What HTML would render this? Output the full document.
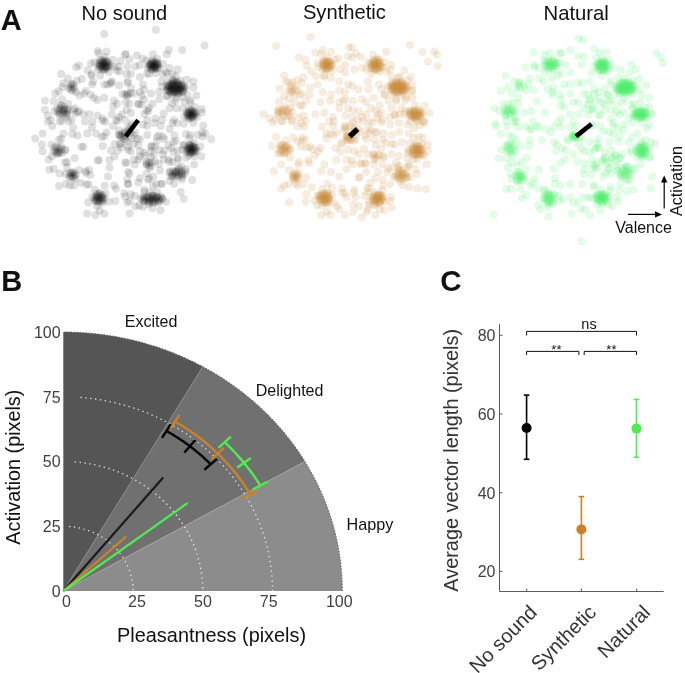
<!DOCTYPE html>
<html><head><meta charset="utf-8"><style>
html,body{margin:0;padding:0;background:#fff;width:685px;height:673px;overflow:hidden}
svg{display:block;will-change:transform}
text{font-family:"Liberation Sans",sans-serif}
</style></head><body>
<svg width="685" height="673" viewBox="0 0 685 673">
<defs><filter id="soft" x="-5%" y="-5%" width="110%" height="110%"><feGaussianBlur stdDeviation="0.55"/></filter></defs>
<rect width="685" height="673" fill="#fff"/>
<g fill="#000" fill-opacity="0.12" filter="url(#soft)">
<circle cx="103.0" cy="64.7" r="4"/>
<circle cx="104.8" cy="64.0" r="4"/>
<circle cx="103.5" cy="66.5" r="4"/>
<circle cx="102.7" cy="63.1" r="4"/>
<circle cx="106.0" cy="65.4" r="4"/>
<circle cx="101.6" cy="66.0" r="4"/>
<circle cx="104.7" cy="62.2" r="4"/>
<circle cx="105.0" cy="67.5" r="4"/>
<circle cx="100.9" cy="63.5" r="4"/>
<circle cx="106.9" cy="63.8" r="4"/>
<circle cx="102.1" cy="67.8" r="4"/>
<circle cx="103.0" cy="61.2" r="4"/>
<circle cx="106.9" cy="66.9" r="4"/>
<circle cx="99.9" cy="65.4" r="4"/>
<circle cx="106.4" cy="61.6" r="4"/>
<circle cx="104.0" cy="69.0" r="4"/>
<circle cx="100.7" cy="61.7" r="4"/>
<circle cx="108.3" cy="64.9" r="4"/>
<circle cx="100.3" cy="67.8" r="4"/>
<circle cx="104.4" cy="60.1" r="4"/>
<circle cx="106.6" cy="68.8" r="4"/>
<circle cx="98.9" cy="63.8" r="4"/>
<circle cx="108.2" cy="62.2" r="4"/>
<circle cx="102.3" cy="69.8" r="4"/>
<circle cx="101.5" cy="60.0" r="4"/>
<circle cx="108.8" cy="66.8" r="4"/>
<circle cx="98.6" cy="66.8" r="4"/>
<circle cx="103.5" cy="63.2" r="4"/>
<circle cx="106.1" cy="66.5" r="4"/>
<circle cx="100.0" cy="65.2" r="4"/>
<circle cx="106.8" cy="61.4" r="4"/>
<circle cx="103.9" cy="70.1" r="4"/>
<circle cx="99.7" cy="60.5" r="4"/>
<circle cx="110.4" cy="65.2" r="4"/>
<circle cx="98.1" cy="69.4" r="4"/>
<circle cx="105.0" cy="56.9" r="4"/>
<circle cx="108.7" cy="72.1" r="4"/>
<circle cx="94.6" cy="62.5" r="4"/>
<circle cx="112.9" cy="59.8" r="4"/>
<circle cx="100.2" cy="75.5" r="4"/>
<circle cx="98.8" cy="53.3" r="4"/>
<circle cx="116.7" cy="70.5" r="4"/>
<circle cx="87.6" cy="70.3" r="4"/>
<circle cx="154.4" cy="65.3" r="4"/>
<circle cx="153.1" cy="66.4" r="4"/>
<circle cx="153.3" cy="64.2" r="4"/>
<circle cx="155.2" cy="66.4" r="4"/>
<circle cx="151.6" cy="65.8" r="4"/>
<circle cx="155.2" cy="63.9" r="4"/>
<circle cx="153.8" cy="67.7" r="4"/>
<circle cx="151.7" cy="63.8" r="4"/>
<circle cx="156.6" cy="65.6" r="4"/>
<circle cx="151.4" cy="67.3" r="4"/>
<circle cx="154.1" cy="62.7" r="4"/>
<circle cx="155.7" cy="67.9" r="4"/>
<circle cx="150.2" cy="64.9" r="4"/>
<circle cx="156.9" cy="63.9" r="4"/>
<circle cx="152.6" cy="68.7" r="4"/>
<circle cx="152.0" cy="62.4" r="4"/>
<circle cx="157.5" cy="66.8" r="4"/>
<circle cx="149.8" cy="66.8" r="4"/>
<circle cx="155.7" cy="62.1" r="4"/>
<circle cx="154.9" cy="69.2" r="4"/>
<circle cx="149.9" cy="63.4" r="4"/>
<circle cx="158.3" cy="64.8" r="4"/>
<circle cx="150.8" cy="68.8" r="4"/>
<circle cx="153.2" cy="61.3" r="4"/>
<circle cx="157.4" cy="68.4" r="4"/>
<circle cx="148.6" cy="65.5" r="4"/>
<circle cx="157.5" cy="62.4" r="4"/>
<circle cx="154.6" cy="66.9" r="4"/>
<circle cx="150.9" cy="64.8" r="4"/>
<circle cx="157.0" cy="63.7" r="4"/>
<circle cx="152.2" cy="69.8" r="4"/>
<circle cx="151.6" cy="60.7" r="4"/>
<circle cx="159.1" cy="67.9" r="4"/>
<circle cx="147.4" cy="67.6" r="4"/>
<circle cx="157.2" cy="59.1" r="4"/>
<circle cx="155.6" cy="73.3" r="4"/>
<circle cx="146.5" cy="60.6" r="4"/>
<circle cx="163.1" cy="64.1" r="4"/>
<circle cx="147.2" cy="73.5" r="4"/>
<circle cx="153.0" cy="54.2" r="4"/>
<circle cx="162.7" cy="74.2" r="4"/>
<circle cx="139.6" cy="65.1" r="4"/>
<circle cx="166.6" cy="54.3" r="4"/>
<circle cx="175.8" cy="88.4" r="4"/>
<circle cx="173.5" cy="87.7" r="4"/>
<circle cx="177.1" cy="87.2" r="4"/>
<circle cx="174.5" cy="89.4" r="4"/>
<circle cx="173.8" cy="86.3" r="4"/>
<circle cx="178.3" cy="88.6" r="4"/>
<circle cx="171.9" cy="88.7" r="4"/>
<circle cx="176.8" cy="85.8" r="4"/>
<circle cx="176.5" cy="90.2" r="4"/>
<circle cx="171.4" cy="86.6" r="4"/>
<circle cx="179.6" cy="87.3" r="4"/>
<circle cx="172.5" cy="90.3" r="4"/>
<circle cx="174.5" cy="84.9" r="4"/>
<circle cx="179.2" cy="89.9" r="4"/>
<circle cx="169.8" cy="88.1" r="4"/>
<circle cx="179.1" cy="85.5" r="4"/>
<circle cx="175.0" cy="91.3" r="4"/>
<circle cx="171.4" cy="85.2" r="4"/>
<circle cx="181.2" cy="88.3" r="4"/>
<circle cx="170.1" cy="90.1" r="4"/>
<circle cx="176.5" cy="84.2" r="4"/>
<circle cx="178.5" cy="91.3" r="4"/>
<circle cx="168.8" cy="86.7" r="4"/>
<circle cx="181.4" cy="86.1" r="4"/>
<circle cx="172.6" cy="91.8" r="4"/>
<circle cx="172.7" cy="83.9" r="4"/>
<circle cx="181.7" cy="89.9" r="4"/>
<circle cx="168.1" cy="89.1" r="4"/>
<circle cx="179.2" cy="84.1" r="4"/>
<circle cx="176.6" cy="92.4" r="4"/>
<circle cx="169.0" cy="85.1" r="4"/>
<circle cx="183.1" cy="87.5" r="4"/>
<circle cx="169.8" cy="91.5" r="4"/>
<circle cx="175.1" cy="83.0" r="4"/>
<circle cx="180.8" cy="91.5" r="4"/>
<circle cx="166.8" cy="87.5" r="4"/>
<circle cx="181.9" cy="84.8" r="4"/>
<circle cx="173.8" cy="93.0" r="4"/>
<circle cx="170.5" cy="83.5" r="4"/>
<circle cx="183.8" cy="89.2" r="4"/>
<circle cx="167.3" cy="90.4" r="4"/>
<circle cx="178.3" cy="82.8" r="4"/>
<circle cx="178.8" cy="93.0" r="4"/>
<circle cx="166.8" cy="85.6" r="4"/>
<circle cx="184.1" cy="86.2" r="4"/>
<circle cx="170.5" cy="92.8" r="4"/>
<circle cx="173.1" cy="82.3" r="4"/>
<circle cx="183.2" cy="91.2" r="4"/>
<circle cx="174.5" cy="88.9" r="4"/>
<circle cx="175.0" cy="85.8" r="4"/>
<circle cx="177.3" cy="89.8" r="4"/>
<circle cx="171.8" cy="88.0" r="4"/>
<circle cx="178.0" cy="85.2" r="4"/>
<circle cx="174.9" cy="92.2" r="4"/>
<circle cx="172.3" cy="84.2" r="4"/>
<circle cx="180.3" cy="88.7" r="4"/>
<circle cx="170.6" cy="91.0" r="4"/>
<circle cx="176.6" cy="82.2" r="4"/>
<circle cx="178.2" cy="93.4" r="4"/>
<circle cx="168.9" cy="85.7" r="4"/>
<circle cx="181.7" cy="85.1" r="4"/>
<circle cx="172.2" cy="94.7" r="4"/>
<circle cx="172.7" cy="80.5" r="4"/>
<circle cx="182.4" cy="91.9" r="4"/>
<circle cx="166.8" cy="89.9" r="4"/>
<circle cx="180.3" cy="80.4" r="4"/>
<circle cx="176.6" cy="97.4" r="4"/>
<circle cx="167.4" cy="81.6" r="4"/>
<circle cx="185.7" cy="87.3" r="4"/>
<circle cx="167.5" cy="95.9" r="4"/>
<circle cx="175.5" cy="76.2" r="4"/>
<circle cx="183.3" cy="97.3" r="4"/>
<circle cx="162.0" cy="86.4" r="4"/>
<circle cx="186.8" cy="79.5" r="4"/>
<circle cx="172.0" cy="103.3" r="4"/>
<circle cx="165.7" cy="72.1" r="4"/>
<circle cx="191.8" cy="114.0" r="4"/>
<circle cx="190.5" cy="115.2" r="4"/>
<circle cx="190.7" cy="112.8" r="4"/>
<circle cx="192.7" cy="115.2" r="4"/>
<circle cx="188.9" cy="114.5" r="4"/>
<circle cx="192.7" cy="112.5" r="4"/>
<circle cx="191.3" cy="116.6" r="4"/>
<circle cx="189.0" cy="112.4" r="4"/>
<circle cx="194.2" cy="114.3" r="4"/>
<circle cx="188.6" cy="116.1" r="4"/>
<circle cx="191.5" cy="111.2" r="4"/>
<circle cx="193.2" cy="116.7" r="4"/>
<circle cx="187.4" cy="113.5" r="4"/>
<circle cx="194.4" cy="112.4" r="4"/>
<circle cx="190.0" cy="117.6" r="4"/>
<circle cx="189.3" cy="110.9" r="4"/>
<circle cx="195.1" cy="115.6" r="4"/>
<circle cx="187.0" cy="115.6" r="4"/>
<circle cx="193.1" cy="110.6" r="4"/>
<circle cx="192.4" cy="118.1" r="4"/>
<circle cx="187.0" cy="112.0" r="4"/>
<circle cx="195.9" cy="113.4" r="4"/>
<circle cx="188.1" cy="117.7" r="4"/>
<circle cx="190.6" cy="109.7" r="4"/>
<circle cx="192.1" cy="115.7" r="4"/>
<circle cx="188.1" cy="113.5" r="4"/>
<circle cx="194.7" cy="112.2" r="4"/>
<circle cx="189.5" cy="118.9" r="4"/>
<circle cx="188.8" cy="109.0" r="4"/>
<circle cx="197.1" cy="116.8" r="4"/>
<circle cx="184.2" cy="116.6" r="4"/>
<circle cx="194.9" cy="107.1" r="4"/>
<circle cx="193.3" cy="122.8" r="4"/>
<circle cx="182.9" cy="108.8" r="4"/>
<circle cx="201.8" cy="112.5" r="4"/>
<circle cx="183.6" cy="123.7" r="4"/>
<circle cx="190.1" cy="100.5" r="4"/>
<circle cx="203.3" cy="125.7" r="4"/>
<circle cx="191.2" cy="149.7" r="4"/>
<circle cx="191.1" cy="148.0" r="4"/>
<circle cx="192.9" cy="149.8" r="4"/>
<circle cx="189.7" cy="149.6" r="4"/>
<circle cx="192.6" cy="147.3" r="4"/>
<circle cx="191.9" cy="151.4" r="4"/>
<circle cx="189.5" cy="147.6" r="4"/>
<circle cx="194.2" cy="148.9" r="4"/>
<circle cx="189.6" cy="151.2" r="4"/>
<circle cx="191.5" cy="146.1" r="4"/>
<circle cx="193.7" cy="151.5" r="4"/>
<circle cx="188.2" cy="148.8" r="4"/>
<circle cx="194.3" cy="147.0" r="4"/>
<circle cx="190.9" cy="152.7" r="4"/>
<circle cx="189.5" cy="145.9" r="4"/>
<circle cx="195.3" cy="150.1" r="4"/>
<circle cx="187.9" cy="151.0" r="4"/>
<circle cx="192.9" cy="145.2" r="4"/>
<circle cx="193.1" cy="153.0" r="4"/>
<circle cx="187.5" cy="147.3" r="4"/>
<circle cx="195.8" cy="147.7" r="4"/>
<circle cx="189.2" cy="153.1" r="4"/>
<circle cx="190.5" cy="144.5" r="4"/>
<circle cx="195.4" cy="151.8" r="4"/>
<circle cx="186.7" cy="149.7" r="4"/>
<circle cx="189.8" cy="148.9" r="4"/>
<circle cx="193.9" cy="147.4" r="4"/>
<circle cx="190.7" cy="152.9" r="4"/>
<circle cx="189.1" cy="145.0" r="4"/>
<circle cx="196.8" cy="150.7" r="4"/>
<circle cx="185.9" cy="151.8" r="4"/>
<circle cx="194.1" cy="142.7" r="4"/>
<circle cx="194.2" cy="156.3" r="4"/>
<circle cx="184.0" cy="145.3" r="4"/>
<circle cx="200.4" cy="146.6" r="4"/>
<circle cx="186.2" cy="157.7" r="4"/>
<circle cx="189.4" cy="138.2" r="4"/>
<circle cx="201.4" cy="156.5" r="4"/>
<circle cx="177.6" cy="150.5" r="4"/>
<circle cx="202.8" cy="136.5" r="4"/>
<circle cx="176.5" cy="173.9" r="4"/>
<circle cx="178.5" cy="172.3" r="4"/>
<circle cx="178.9" cy="175.1" r="4"/>
<circle cx="174.3" cy="172.7" r="4"/>
<circle cx="181.7" cy="172.8" r="4"/>
<circle cx="175.4" cy="175.7" r="4"/>
<circle cx="176.6" cy="170.8" r="4"/>
<circle cx="182.2" cy="175.2" r="4"/>
<circle cx="171.9" cy="173.9" r="4"/>
<circle cx="181.6" cy="171.0" r="4"/>
<circle cx="178.0" cy="177.0" r="4"/>
<circle cx="172.9" cy="170.9" r="4"/>
<circle cx="184.7" cy="173.7" r="4"/>
<circle cx="172.1" cy="176.0" r="4"/>
<circle cx="178.7" cy="169.5" r="4"/>
<circle cx="182.2" cy="177.0" r="4"/>
<circle cx="169.8" cy="172.6" r="4"/>
<circle cx="184.9" cy="171.3" r="4"/>
<circle cx="176.3" cy="172.0" r="4"/>
<circle cx="181.4" cy="173.8" r="4"/>
<circle cx="173.8" cy="176.5" r="4"/>
<circle cx="178.7" cy="167.5" r="4"/>
<circle cx="181.6" cy="179.4" r="4"/>
<circle cx="169.7" cy="171.5" r="4"/>
<circle cx="186.0" cy="169.1" r="4"/>
<circle cx="174.1" cy="183.7" r="4"/>
<circle cx="172.7" cy="161.9" r="4"/>
<circle cx="192.2" cy="180.1" r="4"/>
<circle cx="152.4" cy="198.4" r="4"/>
<circle cx="152.4" cy="199.6" r="4"/>
<circle cx="148.9" cy="198.2" r="4"/>
<circle cx="155.6" cy="198.6" r="4"/>
<circle cx="149.0" cy="200.0" r="4"/>
<circle cx="151.3" cy="197.2" r="4"/>
<circle cx="155.6" cy="200.0" r="4"/>
<circle cx="145.9" cy="198.8" r="4"/>
<circle cx="156.2" cy="197.4" r="4"/>
<circle cx="151.1" cy="200.9" r="4"/>
<circle cx="147.6" cy="197.0" r="4"/>
<circle cx="158.7" cy="199.2" r="4"/>
<circle cx="145.4" cy="200.1" r="4"/>
<circle cx="153.8" cy="196.3" r="4"/>
<circle cx="155.3" cy="201.2" r="4"/>
<circle cx="143.9" cy="197.8" r="4"/>
<circle cx="159.6" cy="197.7" r="4"/>
<circle cx="147.9" cy="201.4" r="4"/>
<circle cx="149.1" cy="195.9" r="4"/>
<circle cx="159.7" cy="200.4" r="4"/>
<circle cx="142.4" cy="199.5" r="4"/>
<circle cx="157.4" cy="196.2" r="4"/>
<circle cx="152.9" cy="202.1" r="4"/>
<circle cx="144.0" cy="196.6" r="4"/>
<circle cx="162.1" cy="198.7" r="4"/>
<circle cx="144.1" cy="201.3" r="4"/>
<circle cx="152.3" cy="195.2" r="4"/>
<circle cx="158.7" cy="201.6" r="4"/>
<circle cx="140.6" cy="198.3" r="4"/>
<circle cx="161.1" cy="196.6" r="4"/>
<circle cx="149.1" cy="202.6" r="4"/>
<circle cx="153.2" cy="199.1" r="4"/>
<circle cx="149.4" cy="200.2" r="4"/>
<circle cx="152.8" cy="195.4" r="4"/>
<circle cx="153.5" cy="202.7" r="4"/>
<circle cx="147.1" cy="196.9" r="4"/>
<circle cx="156.9" cy="196.9" r="4"/>
<circle cx="148.9" cy="204.3" r="4"/>
<circle cx="149.9" cy="192.3" r="4"/>
<circle cx="157.9" cy="202.7" r="4"/>
<circle cx="143.9" cy="200.2" r="4"/>
<circle cx="156.9" cy="192.0" r="4"/>
<circle cx="152.5" cy="208.0" r="4"/>
<circle cx="144.3" cy="192.1" r="4"/>
<circle cx="162.5" cy="198.8" r="4"/>
<circle cx="143.0" cy="206.8" r="4"/>
<circle cx="152.8" cy="185.9" r="4"/>
<circle cx="160.5" cy="210.3" r="4"/>
<circle cx="134.6" cy="195.8" r="4"/>
<circle cx="98.4" cy="198.4" r="4"/>
<circle cx="99.4" cy="196.7" r="4"/>
<circle cx="99.9" cy="199.6" r="4"/>
<circle cx="97.1" cy="197.3" r="4"/>
<circle cx="101.3" cy="197.1" r="4"/>
<circle cx="98.0" cy="200.4" r="4"/>
<circle cx="98.2" cy="195.3" r="4"/>
<circle cx="101.7" cy="199.5" r="4"/>
<circle cx="95.9" cy="198.7" r="4"/>
<circle cx="101.1" cy="195.2" r="4"/>
<circle cx="99.6" cy="201.6" r="4"/>
<circle cx="96.2" cy="195.6" r="4"/>
<circle cx="103.0" cy="197.8" r="4"/>
<circle cx="96.2" cy="200.9" r="4"/>
<circle cx="99.3" cy="193.8" r="4"/>
<circle cx="101.9" cy="201.3" r="4"/>
<circle cx="94.6" cy="197.4" r="4"/>
<circle cx="102.9" cy="195.3" r="4"/>
<circle cx="98.1" cy="202.7" r="4"/>
<circle cx="96.6" cy="193.8" r="4"/>
<circle cx="103.9" cy="199.5" r="4"/>
<circle cx="94.4" cy="200.2" r="4"/>
<circle cx="97.7" cy="196.8" r="4"/>
<circle cx="102.3" cy="198.0" r="4"/>
<circle cx="96.0" cy="200.9" r="4"/>
<circle cx="99.5" cy="192.9" r="4"/>
<circle cx="102.8" cy="202.7" r="4"/>
<circle cx="92.4" cy="196.9" r="4"/>
<circle cx="105.5" cy="193.8" r="4"/>
<circle cx="97.0" cy="206.3" r="4"/>
<circle cx="94.6" cy="189.7" r="4"/>
<circle cx="109.0" cy="201.5" r="4"/>
<circle cx="88.3" cy="202.6" r="4"/>
<circle cx="104.7" cy="185.7" r="4"/>
<circle cx="104.3" cy="213.8" r="4"/>
<circle cx="71.5" cy="174.7" r="4"/>
<circle cx="73.6" cy="174.4" r="4"/>
<circle cx="71.6" cy="176.7" r="4"/>
<circle cx="71.6" cy="172.9" r="4"/>
<circle cx="74.5" cy="176.2" r="4"/>
<circle cx="69.6" cy="175.7" r="4"/>
<circle cx="73.9" cy="172.5" r="4"/>
<circle cx="72.8" cy="178.2" r="4"/>
<circle cx="69.6" cy="172.9" r="4"/>
<circle cx="75.9" cy="174.7" r="4"/>
<circle cx="69.7" cy="177.8" r="4"/>
<circle cx="72.4" cy="172.3" r="4"/>
<circle cx="75.5" cy="178.8" r="4"/>
<circle cx="65.6" cy="174.1" r="4"/>
<circle cx="79.3" cy="170.0" r="4"/>
<circle cx="70.0" cy="185.6" r="4"/>
<circle cx="65.0" cy="162.5" r="4"/>
<circle cx="59.3" cy="150.7" r="4"/>
<circle cx="56.6" cy="151.5" r="4"/>
<circle cx="58.8" cy="148.1" r="4"/>
<circle cx="59.6" cy="153.1" r="4"/>
<circle cx="55.1" cy="149.4" r="4"/>
<circle cx="61.6" cy="149.1" r="4"/>
<circle cx="56.5" cy="154.1" r="4"/>
<circle cx="56.9" cy="146.4" r="4"/>
<circle cx="62.2" cy="152.8" r="4"/>
<circle cx="53.5" cy="151.5" r="4"/>
<circle cx="61.1" cy="146.3" r="4"/>
<circle cx="58.5" cy="153.2" r="4"/>
<circle cx="54.5" cy="147.2" r="4"/>
<circle cx="64.9" cy="150.4" r="4"/>
<circle cx="51.9" cy="156.4" r="4"/>
<circle cx="59.0" cy="139.7" r="4"/>
<circle cx="67.1" cy="161.9" r="4"/>
<circle cx="62.0" cy="109.5" r="4"/>
<circle cx="63.4" cy="111.6" r="4"/>
<circle cx="59.4" cy="110.2" r="4"/>
<circle cx="64.5" cy="108.9" r="4"/>
<circle cx="61.3" cy="113.2" r="4"/>
<circle cx="60.0" cy="107.7" r="4"/>
<circle cx="66.1" cy="111.4" r="4"/>
<circle cx="57.9" cy="112.0" r="4"/>
<circle cx="63.8" cy="106.8" r="4"/>
<circle cx="63.9" cy="114.3" r="4"/>
<circle cx="57.1" cy="108.5" r="4"/>
<circle cx="67.5" cy="109.1" r="4"/>
<circle cx="58.9" cy="114.5" r="4"/>
<circle cx="60.8" cy="105.6" r="4"/>
<circle cx="67.2" cy="113.4" r="4"/>
<circle cx="64.1" cy="109.9" r="4"/>
<circle cx="59.9" cy="113.7" r="4"/>
<circle cx="61.1" cy="105.2" r="4"/>
<circle cx="67.1" cy="114.4" r="4"/>
<circle cx="54.4" cy="111.0" r="4"/>
<circle cx="68.1" cy="103.9" r="4"/>
<circle cx="61.9" cy="120.8" r="4"/>
<circle cx="53.8" cy="101.2" r="4"/>
<circle cx="77.6" cy="111.9" r="4"/>
<circle cx="70.7" cy="87.2" r="4"/>
<circle cx="73.1" cy="86.6" r="4"/>
<circle cx="70.9" cy="89.5" r="4"/>
<circle cx="70.6" cy="85.0" r="4"/>
<circle cx="74.3" cy="88.6" r="4"/>
<circle cx="68.5" cy="88.4" r="4"/>
<circle cx="73.3" cy="84.3" r="4"/>
<circle cx="72.5" cy="91.1" r="4"/>
<circle cx="71.5" cy="84.0" r="4"/>
<circle cx="76.0" cy="91.9" r="4"/>
<circle cx="62.5" cy="86.9" r="4"/>
<circle cx="81.8" cy="79.0" r="4"/>
<circle cx="149.0" cy="165.5" r="4"/>
<circle cx="149.1" cy="162.8" r="4"/>
<circle cx="151.4" cy="165.9" r="4"/>
<circle cx="146.8" cy="165.0" r="4"/>
<circle cx="151.5" cy="162.2" r="4"/>
<circle cx="149.7" cy="168.0" r="4"/>
<circle cx="146.8" cy="162.0" r="4"/>
<circle cx="146.2" cy="163.8" r="4"/>
<circle cx="155.0" cy="161.5" r="4"/>
<circle cx="146.7" cy="173.3" r="4"/>
<circle cx="144.0" cy="152.5" r="4"/>
<circle cx="130.5" cy="132.8" r="4"/>
<circle cx="131.9" cy="138.5" r="4"/>
<circle cx="125.2" cy="133.4" r="4"/>
<circle cx="135.5" cy="132.6" r="4"/>
<circle cx="127.3" cy="141.2" r="4"/>
<circle cx="127.6" cy="127.9" r="4"/>
<circle cx="137.2" cy="138.9" r="4"/>
<circle cx="121.4" cy="137.1" r="4"/>
<circle cx="133.4" cy="134.9" r="4"/>
<circle cx="125.5" cy="139.4" r="4"/>
<circle cx="130.5" cy="125.9" r="4"/>
<circle cx="138.4" cy="145.3" r="4"/>
<circle cx="122.6" cy="136.1" r="4"/>
<circle cx="122.2" cy="133.2" r="4"/>
<circle cx="125.3" cy="136.0" r="4"/>
<circle cx="120.2" cy="135.9" r="4"/>
<circle cx="124.6" cy="132.0" r="4"/>
<circle cx="123.9" cy="138.6" r="4"/>
<circle cx="119.1" cy="134.8" r="4"/>
<circle cx="129.0" cy="130.2" r="4"/>
<circle cx="121.2" cy="147.2" r="4"/>
<circle cx="119.6" cy="71.4" r="4"/>
<circle cx="111.5" cy="82.6" r="4"/>
<circle cx="89.0" cy="170.1" r="4"/>
<circle cx="91.9" cy="127.6" r="4"/>
<circle cx="163.0" cy="136.6" r="4"/>
<circle cx="91.3" cy="75.7" r="4"/>
<circle cx="202.2" cy="132.6" r="4"/>
<circle cx="65.5" cy="149.8" r="4"/>
<circle cx="171.3" cy="148.1" r="4"/>
<circle cx="131.6" cy="123.5" r="4"/>
<circle cx="57.0" cy="152.6" r="4"/>
<circle cx="183.4" cy="144.9" r="4"/>
<circle cx="88.6" cy="184.4" r="4"/>
<circle cx="128.5" cy="131.7" r="4"/>
<circle cx="167.5" cy="73.7" r="4"/>
<circle cx="178.1" cy="159.3" r="4"/>
<circle cx="172.9" cy="80.7" r="4"/>
<circle cx="175.4" cy="80.6" r="4"/>
<circle cx="122.5" cy="93.8" r="4"/>
<circle cx="162.2" cy="183.7" r="4"/>
<circle cx="92.1" cy="84.4" r="4"/>
<circle cx="149.3" cy="178.8" r="4"/>
<circle cx="124.2" cy="193.2" r="4"/>
<circle cx="114.6" cy="144.3" r="4"/>
<circle cx="188.7" cy="155.7" r="4"/>
<circle cx="86.3" cy="173.0" r="4"/>
<circle cx="80.9" cy="183.0" r="4"/>
<circle cx="73.3" cy="110.0" r="4"/>
<circle cx="97.7" cy="160.6" r="4"/>
<circle cx="75.6" cy="113.4" r="4"/>
<circle cx="114.4" cy="66.9" r="4"/>
<circle cx="148.3" cy="110.9" r="4"/>
<circle cx="163.0" cy="154.6" r="4"/>
<circle cx="116.0" cy="188.8" r="4"/>
<circle cx="148.1" cy="179.6" r="4"/>
<circle cx="101.7" cy="137.0" r="4"/>
<circle cx="85.9" cy="91.1" r="4"/>
<circle cx="58.7" cy="91.2" r="4"/>
<circle cx="169.1" cy="161.7" r="4"/>
<circle cx="67.6" cy="110.2" r="4"/>
<circle cx="114.3" cy="156.4" r="4"/>
<circle cx="119.9" cy="143.8" r="4"/>
<circle cx="181.3" cy="166.2" r="4"/>
<circle cx="105.4" cy="121.7" r="4"/>
<circle cx="105.8" cy="67.6" r="4"/>
<circle cx="79.5" cy="95.4" r="4"/>
<circle cx="97.3" cy="100.1" r="4"/>
<circle cx="139.3" cy="205.5" r="4"/>
<circle cx="170.9" cy="176.6" r="4"/>
<circle cx="168.5" cy="145.5" r="4"/>
<circle cx="146.9" cy="110.5" r="4"/>
<circle cx="131.0" cy="87.9" r="4"/>
<circle cx="130.6" cy="92.9" r="4"/>
<circle cx="117.0" cy="103.7" r="4"/>
<circle cx="141.8" cy="95.9" r="4"/>
<circle cx="141.2" cy="104.4" r="4"/>
<circle cx="117.7" cy="120.7" r="4"/>
<circle cx="127.3" cy="95.9" r="4"/>
<circle cx="144.2" cy="89.6" r="4"/>
<circle cx="139.9" cy="91.9" r="4"/>
<circle cx="126.9" cy="93.6" r="4"/>
<circle cx="144.0" cy="99.4" r="4"/>
<circle cx="149.0" cy="108.1" r="4"/>
<circle cx="138.4" cy="104.3" r="4"/>
<circle cx="151.7" cy="146.9" r="4"/>
<circle cx="175.8" cy="141.0" r="4"/>
<circle cx="177.6" cy="157.7" r="4"/>
<circle cx="153.7" cy="154.2" r="4"/>
<circle cx="154.5" cy="146.4" r="4"/>
<circle cx="159.1" cy="135.5" r="4"/>
<circle cx="158.8" cy="164.1" r="4"/>
<circle cx="150.8" cy="157.4" r="4"/>
<circle cx="156.8" cy="141.3" r="4"/>
<circle cx="174.4" cy="135.5" r="4"/>
<circle cx="104.3" cy="33.9" r="4"/>
<circle cx="97.6" cy="51.0" r="4"/>
<circle cx="106.5" cy="51.4" r="4"/>
<circle cx="76.1" cy="67.3" r="4"/>
<circle cx="79.0" cy="65.4" r="4"/>
<circle cx="61.2" cy="74.0" r="4"/>
<circle cx="67.9" cy="78.5" r="4"/>
<circle cx="63.4" cy="83.2" r="4"/>
<circle cx="76.8" cy="80.7" r="4"/>
<circle cx="93.2" cy="81.5" r="4"/>
<circle cx="55.3" cy="93.4" r="4"/>
<circle cx="61.9" cy="99.3" r="4"/>
<circle cx="44.9" cy="100.8" r="4"/>
<circle cx="84.2" cy="93.4" r="4"/>
<circle cx="90.9" cy="94.8" r="4"/>
<circle cx="93.9" cy="97.8" r="4"/>
<circle cx="104.3" cy="97.8" r="4"/>
<circle cx="104.3" cy="84.4" r="4"/>
<circle cx="110.2" cy="83.7" r="4"/>
<circle cx="119.2" cy="85.2" r="4"/>
<circle cx="120.6" cy="60.7" r="4"/>
<circle cx="125.1" cy="54.7" r="4"/>
<circle cx="114.0" cy="100.8" r="4"/>
<circle cx="113.2" cy="106.7" r="4"/>
<circle cx="83.5" cy="114.2" r="4"/>
<circle cx="89.4" cy="114.2" r="4"/>
<circle cx="97.6" cy="115.6" r="4"/>
<circle cx="102.8" cy="118.6" r="4"/>
<circle cx="111.7" cy="114.2" r="4"/>
<circle cx="119.2" cy="117.1" r="4"/>
<circle cx="125.1" cy="120.1" r="4"/>
<circle cx="44.9" cy="109.7" r="4"/>
<circle cx="47.8" cy="115.6" r="4"/>
<circle cx="50.8" cy="120.1" r="4"/>
<circle cx="90.9" cy="63.6" r="4"/>
<circle cx="91.7" cy="74.0" r="4"/>
<circle cx="107.3" cy="84.4" r="4"/>
<circle cx="111.7" cy="81.5" r="4"/>
<circle cx="118.4" cy="66.6" r="4"/>
<circle cx="127.3" cy="66.6" r="4"/>
<circle cx="126.6" cy="74.0" r="4"/>
<circle cx="128.1" cy="81.5" r="4"/>
<circle cx="125.1" cy="94.8" r="4"/>
<circle cx="125.8" cy="102.3" r="4"/>
<circle cx="126.6" cy="109.7" r="4"/>
<circle cx="122.1" cy="114.2" r="4"/>
<circle cx="116.2" cy="120.1" r="4"/>
<circle cx="71.6" cy="120.1" r="4"/>
<circle cx="65.7" cy="117.1" r="4"/>
<circle cx="79.0" cy="111.2" r="4"/>
<circle cx="74.6" cy="108.2" r="4"/>
<circle cx="155.8" cy="29.8" r="4"/>
<circle cx="168.8" cy="50.0" r="4"/>
<circle cx="182.2" cy="50.0" r="4"/>
<circle cx="204.5" cy="45.4" r="4"/>
<circle cx="136.9" cy="55.5" r="4"/>
<circle cx="129.5" cy="59.2" r="4"/>
<circle cx="125.7" cy="54.0" r="4"/>
<circle cx="142.8" cy="58.4" r="4"/>
<circle cx="177.7" cy="69.6" r="4"/>
<circle cx="169.6" cy="68.1" r="4"/>
<circle cx="172.5" cy="74.0" r="4"/>
<circle cx="193.4" cy="81.5" r="4"/>
<circle cx="193.4" cy="87.4" r="4"/>
<circle cx="196.3" cy="95.6" r="4"/>
<circle cx="187.4" cy="94.8" r="4"/>
<circle cx="190.4" cy="102.3" r="4"/>
<circle cx="201.5" cy="109.0" r="4"/>
<circle cx="184.4" cy="102.3" r="4"/>
<circle cx="175.5" cy="100.8" r="4"/>
<circle cx="176.3" cy="108.2" r="4"/>
<circle cx="169.6" cy="108.2" r="4"/>
<circle cx="163.6" cy="113.4" r="4"/>
<circle cx="155.5" cy="118.6" r="4"/>
<circle cx="144.3" cy="114.2" r="4"/>
<circle cx="138.4" cy="103.8" r="4"/>
<circle cx="133.9" cy="93.4" r="4"/>
<circle cx="128.0" cy="94.8" r="4"/>
<circle cx="127.2" cy="82.9" r="4"/>
<circle cx="130.9" cy="74.0" r="4"/>
<circle cx="135.4" cy="66.6" r="4"/>
<circle cx="139.9" cy="77.0" r="4"/>
<circle cx="148.8" cy="74.0" r="4"/>
<circle cx="142.8" cy="84.4" r="4"/>
<circle cx="151.0" cy="93.4" r="4"/>
<circle cx="159.2" cy="91.9" r="4"/>
<circle cx="152.5" cy="103.8" r="4"/>
<circle cx="159.2" cy="99.3" r="4"/>
<circle cx="161.4" cy="81.5" r="4"/>
<circle cx="166.6" cy="96.3" r="4"/>
<circle cx="129.5" cy="103.8" r="4"/>
<circle cx="130.9" cy="112.7" r="4"/>
<circle cx="147.3" cy="120.1" r="4"/>
<circle cx="162.1" cy="120.1" r="4"/>
<circle cx="174.0" cy="120.1" r="4"/>
<circle cx="42.6" cy="133.4" r="4"/>
<circle cx="35.2" cy="138.6" r="4"/>
<circle cx="41.9" cy="144.5" r="4"/>
<circle cx="42.6" cy="151.2" r="4"/>
<circle cx="48.6" cy="159.4" r="4"/>
<circle cx="51.5" cy="144.5" r="4"/>
<circle cx="63.4" cy="133.4" r="4"/>
<circle cx="61.2" cy="138.6" r="4"/>
<circle cx="73.1" cy="127.4" r="4"/>
<circle cx="72.3" cy="134.1" r="4"/>
<circle cx="77.5" cy="135.6" r="4"/>
<circle cx="81.3" cy="146.7" r="4"/>
<circle cx="83.5" cy="146.7" r="4"/>
<circle cx="74.6" cy="157.9" r="4"/>
<circle cx="87.2" cy="133.4" r="4"/>
<circle cx="96.1" cy="133.4" r="4"/>
<circle cx="106.5" cy="132.6" r="4"/>
<circle cx="104.3" cy="136.3" r="4"/>
<circle cx="102.8" cy="146.0" r="4"/>
<circle cx="111.0" cy="150.5" r="4"/>
<circle cx="117.7" cy="150.5" r="4"/>
<circle cx="99.1" cy="160.1" r="4"/>
<circle cx="109.5" cy="160.1" r="4"/>
<circle cx="109.5" cy="167.5" r="4"/>
<circle cx="125.1" cy="162.3" r="4"/>
<circle cx="108.0" cy="176.5" r="4"/>
<circle cx="114.0" cy="185.4" r="4"/>
<circle cx="86.5" cy="184.6" r="4"/>
<circle cx="85.7" cy="171.3" r="4"/>
<circle cx="90.2" cy="175.0" r="4"/>
<circle cx="49.3" cy="169.8" r="4"/>
<circle cx="53.8" cy="169.0" r="4"/>
<circle cx="59.0" cy="186.1" r="4"/>
<circle cx="65.7" cy="183.9" r="4"/>
<circle cx="73.8" cy="185.4" r="4"/>
<circle cx="67.1" cy="167.5" r="4"/>
<circle cx="59.7" cy="173.5" r="4"/>
<circle cx="125.1" cy="196.5" r="4"/>
<circle cx="127.3" cy="202.5" r="4"/>
<circle cx="115.4" cy="201.0" r="4"/>
<circle cx="87.2" cy="213.6" r="4"/>
<circle cx="95.4" cy="215.1" r="4"/>
<circle cx="99.8" cy="210.6" r="4"/>
<circle cx="127.3" cy="179.4" r="4"/>
<circle cx="128.1" cy="172.0" r="4"/>
<circle cx="52.3" cy="125.9" r="4"/>
<circle cx="47.8" cy="121.5" r="4"/>
<circle cx="59.7" cy="121.5" r="4"/>
<circle cx="68.6" cy="121.5" r="4"/>
<circle cx="85.0" cy="121.5" r="4"/>
<circle cx="92.4" cy="121.5" r="4"/>
<circle cx="102.8" cy="120.7" r="4"/>
<circle cx="113.2" cy="125.9" r="4"/>
<circle cx="119.2" cy="134.9" r="4"/>
<circle cx="120.6" cy="143.8" r="4"/>
<circle cx="119.2" cy="130.4" r="4"/>
<circle cx="128.1" cy="149.7" r="4"/>
<circle cx="128.1" cy="183.9" r="4"/>
<circle cx="147.3" cy="134.9" r="4"/>
<circle cx="156.9" cy="137.1" r="4"/>
<circle cx="164.4" cy="139.3" r="4"/>
<circle cx="173.3" cy="142.3" r="4"/>
<circle cx="159.2" cy="149.7" r="4"/>
<circle cx="164.4" cy="150.5" r="4"/>
<circle cx="173.3" cy="151.9" r="4"/>
<circle cx="151.0" cy="146.0" r="4"/>
<circle cx="151.0" cy="151.2" r="4"/>
<circle cx="139.9" cy="151.2" r="4"/>
<circle cx="133.9" cy="159.4" r="4"/>
<circle cx="138.4" cy="159.4" r="4"/>
<circle cx="126.5" cy="163.1" r="4"/>
<circle cx="134.7" cy="164.6" r="4"/>
<circle cx="139.9" cy="156.4" r="4"/>
<circle cx="145.1" cy="155.7" r="4"/>
<circle cx="163.6" cy="159.4" r="4"/>
<circle cx="168.8" cy="159.4" r="4"/>
<circle cx="159.9" cy="170.5" r="4"/>
<circle cx="153.2" cy="176.5" r="4"/>
<circle cx="139.9" cy="177.9" r="4"/>
<circle cx="138.4" cy="182.4" r="4"/>
<circle cx="129.5" cy="173.5" r="4"/>
<circle cx="128.0" cy="183.9" r="4"/>
<circle cx="156.2" cy="183.9" r="4"/>
<circle cx="160.7" cy="183.9" r="4"/>
<circle cx="169.6" cy="180.9" r="4"/>
<circle cx="194.1" cy="164.6" r="4"/>
<circle cx="211.2" cy="139.3" r="4"/>
<circle cx="205.2" cy="133.4" r="4"/>
<circle cx="185.9" cy="134.1" r="4"/>
<circle cx="190.4" cy="134.9" r="4"/>
<circle cx="197.8" cy="134.9" r="4"/>
<circle cx="182.2" cy="149.7" r="4"/>
<circle cx="180.7" cy="192.1" r="4"/>
<circle cx="183.7" cy="198.8" r="4"/>
<circle cx="144.3" cy="189.8" r="4"/>
<circle cx="130.9" cy="194.3" r="4"/>
<circle cx="129.5" cy="201.0" r="4"/>
<circle cx="135.4" cy="206.2" r="4"/>
<circle cx="165.9" cy="201.7" r="4"/>
<circle cx="175.5" cy="172.0" r="4"/>
<circle cx="172.5" cy="123.0" r="4"/>
<circle cx="169.6" cy="128.9" r="4"/>
<circle cx="160.7" cy="125.9" r="4"/>
<circle cx="154.7" cy="123.0" r="4"/>
<circle cx="147.3" cy="125.9" r="4"/>
<circle cx="142.8" cy="124.5" r="4"/>
<circle cx="139.9" cy="139.3" r="4"/>
<circle cx="133.9" cy="143.8" r="4"/>
<circle cx="128.0" cy="146.7" r="4"/>
<circle cx="130.9" cy="151.2" r="4"/>
<circle cx="129.5" cy="213.6" r="4"/>
<circle cx="177.0" cy="123.0" r="4"/>
</g>
<g fill="#c88a36" fill-opacity="0.16" filter="url(#soft)">
<circle cx="326.7" cy="65.5" r="4"/>
<circle cx="326.0" cy="63.8" r="4"/>
<circle cx="328.5" cy="65.1" r="4"/>
<circle cx="325.1" cy="65.9" r="4"/>
<circle cx="327.4" cy="62.6" r="4"/>
<circle cx="328.0" cy="67.0" r="4"/>
<circle cx="324.2" cy="63.9" r="4"/>
<circle cx="329.5" cy="63.6" r="4"/>
<circle cx="325.5" cy="67.6" r="4"/>
<circle cx="325.8" cy="61.7" r="4"/>
<circle cx="329.8" cy="66.5" r="4"/>
<circle cx="323.3" cy="65.6" r="4"/>
<circle cx="328.9" cy="61.7" r="4"/>
<circle cx="327.4" cy="68.7" r="4"/>
<circle cx="323.7" cy="62.2" r="4"/>
<circle cx="331.0" cy="64.6" r="4"/>
<circle cx="323.8" cy="67.9" r="4"/>
<circle cx="326.9" cy="60.4" r="4"/>
<circle cx="329.8" cy="68.3" r="4"/>
<circle cx="322.1" cy="64.2" r="4"/>
<circle cx="330.7" cy="62.0" r="4"/>
<circle cx="325.8" cy="69.6" r="4"/>
<circle cx="324.2" cy="60.5" r="4"/>
<circle cx="331.7" cy="66.3" r="4"/>
<circle cx="325.1" cy="65.1" r="4"/>
<circle cx="328.6" cy="62.3" r="4"/>
<circle cx="327.3" cy="68.9" r="4"/>
<circle cx="323.1" cy="61.6" r="4"/>
<circle cx="332.5" cy="64.7" r="4"/>
<circle cx="322.1" cy="69.3" r="4"/>
<circle cx="327.3" cy="57.6" r="4"/>
<circle cx="331.8" cy="71.1" r="4"/>
<circle cx="318.0" cy="63.5" r="4"/>
<circle cx="334.9" cy="59.4" r="4"/>
<circle cx="324.2" cy="75.3" r="4"/>
<circle cx="321.0" cy="54.2" r="4"/>
<circle cx="339.8" cy="69.2" r="4"/>
<circle cx="311.4" cy="71.6" r="4"/>
<circle cx="375.8" cy="65.9" r="4"/>
<circle cx="375.5" cy="63.7" r="4"/>
<circle cx="377.5" cy="65.8" r="4"/>
<circle cx="374.2" cy="65.9" r="4"/>
<circle cx="377.0" cy="62.8" r="4"/>
<circle cx="376.6" cy="67.9" r="4"/>
<circle cx="373.8" cy="63.4" r="4"/>
<circle cx="378.8" cy="64.5" r="4"/>
<circle cx="374.2" cy="67.9" r="4"/>
<circle cx="375.7" cy="61.3" r="4"/>
<circle cx="378.4" cy="67.8" r="4"/>
<circle cx="372.5" cy="65.1" r="4"/>
<circle cx="378.7" cy="62.2" r="4"/>
<circle cx="375.7" cy="69.6" r="4"/>
<circle cx="373.6" cy="61.4" r="4"/>
<circle cx="380.0" cy="65.9" r="4"/>
<circle cx="372.5" cy="67.8" r="4"/>
<circle cx="377.1" cy="60.2" r="4"/>
<circle cx="378.0" cy="69.8" r="4"/>
<circle cx="371.8" cy="63.2" r="4"/>
<circle cx="380.3" cy="63.0" r="4"/>
<circle cx="374.0" cy="70.2" r="4"/>
<circle cx="374.6" cy="59.6" r="4"/>
<circle cx="380.3" cy="68.1" r="4"/>
<circle cx="371.1" cy="66.4" r="4"/>
<circle cx="379.0" cy="60.0" r="4"/>
<circle cx="374.3" cy="65.0" r="4"/>
<circle cx="378.3" cy="63.2" r="4"/>
<circle cx="375.5" cy="69.0" r="4"/>
<circle cx="373.2" cy="61.2" r="4"/>
<circle cx="381.4" cy="66.2" r="4"/>
<circle cx="370.7" cy="68.3" r="4"/>
<circle cx="378.0" cy="58.5" r="4"/>
<circle cx="379.3" cy="72.0" r="4"/>
<circle cx="368.2" cy="62.0" r="4"/>
<circle cx="384.6" cy="61.9" r="4"/>
<circle cx="371.4" cy="74.1" r="4"/>
<circle cx="373.0" cy="54.4" r="4"/>
<circle cx="386.4" cy="71.6" r="4"/>
<circle cx="362.3" cy="67.6" r="4"/>
<circle cx="386.2" cy="51.6" r="4"/>
<circle cx="398.7" cy="86.8" r="4"/>
<circle cx="398.9" cy="88.5" r="4"/>
<circle cx="396.3" cy="86.7" r="4"/>
<circle cx="400.9" cy="87.0" r="4"/>
<circle cx="396.7" cy="89.0" r="4"/>
<circle cx="397.8" cy="85.3" r="4"/>
<circle cx="401.2" cy="88.8" r="4"/>
<circle cx="394.4" cy="87.6" r="4"/>
<circle cx="401.1" cy="85.5" r="4"/>
<circle cx="398.3" cy="90.2" r="4"/>
<circle cx="395.2" cy="85.2" r="4"/>
<circle cx="403.1" cy="87.7" r="4"/>
<circle cx="394.3" cy="89.3" r="4"/>
<circle cx="399.3" cy="84.1" r="4"/>
<circle cx="401.2" cy="90.4" r="4"/>
<circle cx="392.9" cy="86.4" r="4"/>
<circle cx="403.4" cy="85.7" r="4"/>
<circle cx="396.2" cy="91.0" r="4"/>
<circle cx="396.0" cy="83.8" r="4"/>
<circle cx="404.0" cy="89.1" r="4"/>
<circle cx="392.1" cy="88.6" r="4"/>
<circle cx="401.7" cy="83.8" r="4"/>
<circle cx="399.7" cy="91.6" r="4"/>
<circle cx="392.7" cy="84.8" r="4"/>
<circle cx="405.3" cy="86.9" r="4"/>
<circle cx="393.6" cy="90.9" r="4"/>
<circle cx="398.1" cy="82.7" r="4"/>
<circle cx="403.5" cy="90.8" r="4"/>
<circle cx="390.7" cy="87.1" r="4"/>
<circle cx="404.3" cy="84.3" r="4"/>
<circle cx="397.2" cy="92.4" r="4"/>
<circle cx="393.8" cy="83.2" r="4"/>
<circle cx="406.2" cy="88.6" r="4"/>
<circle cx="391.1" cy="90.0" r="4"/>
<circle cx="400.9" cy="82.3" r="4"/>
<circle cx="401.8" cy="92.4" r="4"/>
<circle cx="390.4" cy="85.2" r="4"/>
<circle cx="406.5" cy="85.6" r="4"/>
<circle cx="394.1" cy="92.4" r="4"/>
<circle cx="396.1" cy="81.8" r="4"/>
<circle cx="405.9" cy="90.6" r="4"/>
<circle cx="399.6" cy="87.6" r="4"/>
<circle cx="396.4" cy="88.7" r="4"/>
<circle cx="399.0" cy="84.4" r="4"/>
<circle cx="400.1" cy="90.6" r="4"/>
<circle cx="394.3" cy="86.1" r="4"/>
<circle cx="402.6" cy="85.4" r="4"/>
<circle cx="396.3" cy="92.2" r="4"/>
<circle cx="396.4" cy="82.1" r="4"/>
<circle cx="403.7" cy="90.2" r="4"/>
<circle cx="392.0" cy="89.1" r="4"/>
<circle cx="402.0" cy="81.5" r="4"/>
<circle cx="399.6" cy="94.7" r="4"/>
<circle cx="392.0" cy="82.6" r="4"/>
<circle cx="406.6" cy="86.7" r="4"/>
<circle cx="392.3" cy="93.9" r="4"/>
<circle cx="398.3" cy="78.0" r="4"/>
<circle cx="405.0" cy="94.7" r="4"/>
<circle cx="387.8" cy="86.5" r="4"/>
<circle cx="407.2" cy="80.6" r="4"/>
<circle cx="396.2" cy="99.1" r="4"/>
<circle cx="391.5" cy="76.6" r="4"/>
<circle cx="411.6" cy="91.0" r="4"/>
<circle cx="384.7" cy="94.4" r="4"/>
<circle cx="404.5" cy="70.4" r="4"/>
<circle cx="416.2" cy="114.5" r="4"/>
<circle cx="413.7" cy="114.4" r="4"/>
<circle cx="416.8" cy="113.1" r="4"/>
<circle cx="415.6" cy="115.9" r="4"/>
<circle cx="413.2" cy="112.9" r="4"/>
<circle cx="418.7" cy="114.2" r="4"/>
<circle cx="412.7" cy="115.7" r="4"/>
<circle cx="415.8" cy="111.8" r="4"/>
<circle cx="417.9" cy="116.3" r="4"/>
<circle cx="411.2" cy="113.7" r="4"/>
<circle cx="419.3" cy="112.7" r="4"/>
<circle cx="414.1" cy="117.1" r="4"/>
<circle cx="413.2" cy="111.4" r="4"/>
<circle cx="420.2" cy="115.4" r="4"/>
<circle cx="410.4" cy="115.5" r="4"/>
<circle cx="417.8" cy="111.0" r="4"/>
<circle cx="417.0" cy="117.7" r="4"/>
<circle cx="410.4" cy="112.3" r="4"/>
<circle cx="421.3" cy="113.4" r="4"/>
<circle cx="411.8" cy="117.4" r="4"/>
<circle cx="414.7" cy="110.2" r="4"/>
<circle cx="420.3" cy="116.9" r="4"/>
<circle cx="408.8" cy="114.3" r="4"/>
<circle cx="420.3" cy="111.2" r="4"/>
<circle cx="415.0" cy="118.6" r="4"/>
<circle cx="410.9" cy="110.7" r="4"/>
<circle cx="414.9" cy="115.8" r="4"/>
<circle cx="414.1" cy="111.5" r="4"/>
<circle cx="419.0" cy="115.7" r="4"/>
<circle cx="410.9" cy="115.8" r="4"/>
<circle cx="417.9" cy="109.3" r="4"/>
<circle cx="417.0" cy="120.2" r="4"/>
<circle cx="409.6" cy="110.5" r="4"/>
<circle cx="422.9" cy="112.9" r="4"/>
<circle cx="410.3" cy="120.9" r="4"/>
<circle cx="414.6" cy="105.0" r="4"/>
<circle cx="422.8" cy="121.0" r="4"/>
<circle cx="404.3" cy="114.2" r="4"/>
<circle cx="424.5" cy="105.9" r="4"/>
<circle cx="414.1" cy="128.1" r="4"/>
<circle cx="405.1" cy="100.7" r="4"/>
<circle cx="416.2" cy="150.0" r="4"/>
<circle cx="418.3" cy="150.3" r="4"/>
<circle cx="415.7" cy="151.9" r="4"/>
<circle cx="416.8" cy="148.4" r="4"/>
<circle cx="418.6" cy="152.2" r="4"/>
<circle cx="414.2" cy="150.3" r="4"/>
<circle cx="419.2" cy="148.7" r="4"/>
<circle cx="416.4" cy="153.6" r="4"/>
<circle cx="415.0" cy="147.7" r="4"/>
<circle cx="420.3" cy="151.3" r="4"/>
<circle cx="413.6" cy="152.3" r="4"/>
<circle cx="418.1" cy="146.8" r="4"/>
<circle cx="418.5" cy="154.2" r="4"/>
<circle cx="413.0" cy="148.8" r="4"/>
<circle cx="421.0" cy="149.1" r="4"/>
<circle cx="414.7" cy="154.5" r="4"/>
<circle cx="415.8" cy="146.0" r="4"/>
<circle cx="420.9" cy="153.2" r="4"/>
<circle cx="412.0" cy="151.3" r="4"/>
<circle cx="420.1" cy="146.5" r="4"/>
<circle cx="417.3" cy="155.7" r="4"/>
<circle cx="413.0" cy="146.8" r="4"/>
<circle cx="422.3" cy="150.6" r="4"/>
<circle cx="412.7" cy="154.2" r="4"/>
<circle cx="417.5" cy="144.9" r="4"/>
<circle cx="420.3" cy="155.2" r="4"/>
<circle cx="417.5" cy="148.9" r="4"/>
<circle cx="418.0" cy="153.3" r="4"/>
<circle cx="413.4" cy="148.8" r="4"/>
<circle cx="421.4" cy="149.1" r="4"/>
<circle cx="414.1" cy="155.2" r="4"/>
<circle cx="415.6" cy="144.4" r="4"/>
<circle cx="422.5" cy="154.5" r="4"/>
<circle cx="409.3" cy="151.4" r="4"/>
<circle cx="422.4" cy="144.1" r="4"/>
<circle cx="417.2" cy="159.7" r="4"/>
<circle cx="409.8" cy="143.3" r="4"/>
<circle cx="428.0" cy="151.1" r="4"/>
<circle cx="407.4" cy="158.3" r="4"/>
<circle cx="418.8" cy="136.7" r="4"/>
<circle cx="426.5" cy="164.5" r="4"/>
<circle cx="401.1" cy="174.1" r="4"/>
<circle cx="402.8" cy="176.0" r="4"/>
<circle cx="398.7" cy="175.1" r="4"/>
<circle cx="403.4" cy="173.3" r="4"/>
<circle cx="401.2" cy="177.8" r="4"/>
<circle cx="398.8" cy="172.7" r="4"/>
<circle cx="405.4" cy="175.4" r="4"/>
<circle cx="397.7" cy="177.1" r="4"/>
<circle cx="402.3" cy="171.3" r="4"/>
<circle cx="403.8" cy="178.5" r="4"/>
<circle cx="396.3" cy="173.8" r="4"/>
<circle cx="406.3" cy="173.1" r="4"/>
<circle cx="399.1" cy="179.3" r="4"/>
<circle cx="399.2" cy="170.5" r="4"/>
<circle cx="406.8" cy="177.3" r="4"/>
<circle cx="395.1" cy="176.3" r="4"/>
<circle cx="403.3" cy="174.1" r="4"/>
<circle cx="399.7" cy="178.6" r="4"/>
<circle cx="399.6" cy="170.0" r="4"/>
<circle cx="406.9" cy="178.1" r="4"/>
<circle cx="393.9" cy="176.8" r="4"/>
<circle cx="406.3" cy="167.6" r="4"/>
<circle cx="402.8" cy="185.3" r="4"/>
<circle cx="391.8" cy="167.2" r="4"/>
<circle cx="416.9" cy="174.1" r="4"/>
<circle cx="377.8" cy="199.5" r="4"/>
<circle cx="376.2" cy="198.2" r="4"/>
<circle cx="379.3" cy="198.3" r="4"/>
<circle cx="376.4" cy="200.5" r="4"/>
<circle cx="377.0" cy="196.6" r="4"/>
<circle cx="379.8" cy="200.2" r="4"/>
<circle cx="374.5" cy="199.1" r="4"/>
<circle cx="379.6" cy="196.6" r="4"/>
<circle cx="377.6" cy="201.9" r="4"/>
<circle cx="374.9" cy="196.5" r="4"/>
<circle cx="381.4" cy="199.0" r="4"/>
<circle cx="374.4" cy="201.1" r="4"/>
<circle cx="378.1" cy="195.1" r="4"/>
<circle cx="380.0" cy="202.0" r="4"/>
<circle cx="373.1" cy="197.9" r="4"/>
<circle cx="381.6" cy="196.7" r="4"/>
<circle cx="376.0" cy="202.9" r="4"/>
<circle cx="375.4" cy="194.8" r="4"/>
<circle cx="382.2" cy="200.6" r="4"/>
<circle cx="372.5" cy="200.4" r="4"/>
<circle cx="380.0" cy="194.5" r="4"/>
<circle cx="378.9" cy="203.6" r="4"/>
<circle cx="372.7" cy="196.1" r="4"/>
<circle cx="383.2" cy="197.9" r="4"/>
<circle cx="376.1" cy="199.9" r="4"/>
<circle cx="378.0" cy="195.7" r="4"/>
<circle cx="379.7" cy="202.2" r="4"/>
<circle cx="372.7" cy="197.6" r="4"/>
<circle cx="382.6" cy="196.1" r="4"/>
<circle cx="375.3" cy="204.9" r="4"/>
<circle cx="374.7" cy="192.1" r="4"/>
<circle cx="384.8" cy="202.2" r="4"/>
<circle cx="369.0" cy="201.5" r="4"/>
<circle cx="382.3" cy="190.3" r="4"/>
<circle cx="379.9" cy="209.4" r="4"/>
<circle cx="367.6" cy="191.9" r="4"/>
<circle cx="391.1" cy="196.9" r="4"/>
<circle cx="366.8" cy="211.7" r="4"/>
<circle cx="325.8" cy="198.3" r="4"/>
<circle cx="323.7" cy="198.5" r="4"/>
<circle cx="325.8" cy="196.4" r="4"/>
<circle cx="325.7" cy="200.0" r="4"/>
<circle cx="322.9" cy="196.8" r="4"/>
<circle cx="327.6" cy="197.4" r="4"/>
<circle cx="323.3" cy="200.4" r="4"/>
<circle cx="324.6" cy="194.9" r="4"/>
<circle cx="327.6" cy="200.1" r="4"/>
<circle cx="321.5" cy="198.2" r="4"/>
<circle cx="327.6" cy="195.4" r="4"/>
<circle cx="324.8" cy="201.9" r="4"/>
<circle cx="322.4" cy="194.9" r="4"/>
<circle cx="329.2" cy="198.5" r="4"/>
<circle cx="321.4" cy="200.5" r="4"/>
<circle cx="326.0" cy="193.6" r="4"/>
<circle cx="327.3" cy="202.0" r="4"/>
<circle cx="320.4" cy="196.6" r="4"/>
<circle cx="329.5" cy="195.9" r="4"/>
<circle cx="323.1" cy="202.7" r="4"/>
<circle cx="323.2" cy="193.1" r="4"/>
<circle cx="329.7" cy="200.5" r="4"/>
<circle cx="319.7" cy="199.4" r="4"/>
<circle cx="328.0" cy="193.3" r="4"/>
<circle cx="326.0" cy="203.6" r="4"/>
<circle cx="320.4" cy="194.5" r="4"/>
<circle cx="324.9" cy="199.7" r="4"/>
<circle cx="323.2" cy="195.7" r="4"/>
<circle cx="328.9" cy="198.6" r="4"/>
<circle cx="321.0" cy="200.6" r="4"/>
<circle cx="326.4" cy="192.7" r="4"/>
<circle cx="327.9" cy="203.5" r="4"/>
<circle cx="318.5" cy="195.7" r="4"/>
<circle cx="332.0" cy="195.0" r="4"/>
<circle cx="321.5" cy="205.7" r="4"/>
<circle cx="322.1" cy="189.2" r="4"/>
<circle cx="333.8" cy="203.0" r="4"/>
<circle cx="314.2" cy="200.5" r="4"/>
<circle cx="332.0" cy="187.8" r="4"/>
<circle cx="327.0" cy="211.8" r="4"/>
<circle cx="311.9" cy="187.2" r="4"/>
<circle cx="295.2" cy="177.3" r="4"/>
<circle cx="294.5" cy="175.3" r="4"/>
<circle cx="297.1" cy="176.9" r="4"/>
<circle cx="293.4" cy="177.6" r="4"/>
<circle cx="296.1" cy="174.1" r="4"/>
<circle cx="296.4" cy="179.0" r="4"/>
<circle cx="292.6" cy="175.3" r="4"/>
<circle cx="298.4" cy="175.5" r="4"/>
<circle cx="293.6" cy="179.5" r="4"/>
<circle cx="294.5" cy="173.0" r="4"/>
<circle cx="298.5" cy="178.6" r="4"/>
<circle cx="292.6" cy="176.8" r="4"/>
<circle cx="298.5" cy="172.8" r="4"/>
<circle cx="295.5" cy="183.2" r="4"/>
<circle cx="289.3" cy="170.3" r="4"/>
<circle cx="306.1" cy="177.2" r="4"/>
<circle cx="284.0" cy="185.6" r="4"/>
<circle cx="283.6" cy="148.1" r="4"/>
<circle cx="285.9" cy="149.4" r="4"/>
<circle cx="282.2" cy="150.1" r="4"/>
<circle cx="285.1" cy="146.4" r="4"/>
<circle cx="285.4" cy="151.8" r="4"/>
<circle cx="281.1" cy="147.6" r="4"/>
<circle cx="287.7" cy="147.8" r="4"/>
<circle cx="282.3" cy="152.5" r="4"/>
<circle cx="283.2" cy="144.9" r="4"/>
<circle cx="287.9" cy="151.5" r="4"/>
<circle cx="279.5" cy="149.7" r="4"/>
<circle cx="287.3" cy="145.2" r="4"/>
<circle cx="284.5" cy="154.2" r="4"/>
<circle cx="280.3" cy="145.3" r="4"/>
<circle cx="289.8" cy="149.2" r="4"/>
<circle cx="279.8" cy="152.8" r="4"/>
<circle cx="285.6" cy="147.3" r="4"/>
<circle cx="284.3" cy="152.9" r="4"/>
<circle cx="280.6" cy="145.2" r="4"/>
<circle cx="290.6" cy="149.4" r="4"/>
<circle cx="278.2" cy="153.8" r="4"/>
<circle cx="285.5" cy="140.2" r="4"/>
<circle cx="290.0" cy="157.6" r="4"/>
<circle cx="272.2" cy="146.1" r="4"/>
<circle cx="297.9" cy="141.4" r="4"/>
<circle cx="282.3" cy="111.6" r="4"/>
<circle cx="286.9" cy="111.4" r="4"/>
<circle cx="282.2" cy="114.0" r="4"/>
<circle cx="282.8" cy="109.4" r="4"/>
<circle cx="288.5" cy="113.6" r="4"/>
<circle cx="278.2" cy="112.6" r="4"/>
<circle cx="287.9" cy="109.1" r="4"/>
<circle cx="284.6" cy="115.9" r="4"/>
<circle cx="278.6" cy="109.2" r="4"/>
<circle cx="291.8" cy="112.0" r="4"/>
<circle cx="278.0" cy="115.2" r="4"/>
<circle cx="284.7" cy="107.1" r="4"/>
<circle cx="289.4" cy="116.0" r="4"/>
<circle cx="284.3" cy="109.5" r="4"/>
<circle cx="286.6" cy="115.7" r="4"/>
<circle cx="278.0" cy="110.7" r="4"/>
<circle cx="290.6" cy="108.1" r="4"/>
<circle cx="281.3" cy="120.9" r="4"/>
<circle cx="279.1" cy="101.7" r="4"/>
<circle cx="297.9" cy="117.6" r="4"/>
<circle cx="293.9" cy="90.0" r="4"/>
<circle cx="290.7" cy="88.4" r="4"/>
<circle cx="295.8" cy="87.3" r="4"/>
<circle cx="292.1" cy="92.4" r="4"/>
<circle cx="291.3" cy="85.2" r="4"/>
<circle cx="297.4" cy="90.6" r="4"/>
<circle cx="288.4" cy="90.7" r="4"/>
<circle cx="291.0" cy="91.5" r="4"/>
<circle cx="292.7" cy="82.6" r="4"/>
<circle cx="299.7" cy="95.2" r="4"/>
<circle cx="279.8" cy="88.7" r="4"/>
<circle cx="375.0" cy="156.9" r="4"/>
<circle cx="376.8" cy="154.6" r="4"/>
<circle cx="376.8" cy="158.8" r="4"/>
<circle cx="373.4" cy="155.0" r="4"/>
<circle cx="379.3" cy="155.6" r="4"/>
<circle cx="374.0" cy="159.5" r="4"/>
<circle cx="373.5" cy="153.4" r="4"/>
<circle cx="383.6" cy="157.4" r="4"/>
<circle cx="365.9" cy="163.4" r="4"/>
<circle cx="350.8" cy="131.9" r="4"/>
<circle cx="356.0" cy="135.3" r="4"/>
<circle cx="347.0" cy="136.2" r="4"/>
<circle cx="354.6" cy="128.1" r="4"/>
<circle cx="354.4" cy="140.9" r="4"/>
<circle cx="344.9" cy="130.2" r="4"/>
<circle cx="360.5" cy="131.9" r="4"/>
<circle cx="354.4" cy="131.6" r="4"/>
<circle cx="351.7" cy="140.3" r="4"/>
<circle cx="346.2" cy="127.0" r="4"/>
<circle cx="365.1" cy="135.8" r="4"/>
<circle cx="347.8" cy="138.9" r="4"/>
<circle cx="348.9" cy="137.3" r="4"/>
<circle cx="349.2" cy="140.1" r="4"/>
<circle cx="346.7" cy="137.7" r="4"/>
<circle cx="350.7" cy="137.8" r="4"/>
<circle cx="347.2" cy="140.7" r="4"/>
<circle cx="347.9" cy="135.8" r="4"/>
<circle cx="346.2" cy="136.1" r="4"/>
<circle cx="354.8" cy="139.0" r="4"/>
<circle cx="341.4" cy="144.2" r="4"/>
<circle cx="350.6" cy="125.4" r="4"/>
<circle cx="373.3" cy="204.8" r="4"/>
<circle cx="381.3" cy="112.7" r="4"/>
<circle cx="302.0" cy="105.4" r="4"/>
<circle cx="353.8" cy="192.6" r="4"/>
<circle cx="396.1" cy="100.9" r="4"/>
<circle cx="419.9" cy="125.3" r="4"/>
<circle cx="383.0" cy="67.2" r="4"/>
<circle cx="288.7" cy="82.3" r="4"/>
<circle cx="413.5" cy="158.8" r="4"/>
<circle cx="407.9" cy="153.1" r="4"/>
<circle cx="337.0" cy="132.7" r="4"/>
<circle cx="367.0" cy="187.9" r="4"/>
<circle cx="342.1" cy="192.8" r="4"/>
<circle cx="370.2" cy="182.7" r="4"/>
<circle cx="351.7" cy="160.8" r="4"/>
<circle cx="326.2" cy="133.7" r="4"/>
<circle cx="306.6" cy="66.1" r="4"/>
<circle cx="345.0" cy="193.6" r="4"/>
<circle cx="405.6" cy="111.6" r="4"/>
<circle cx="427.8" cy="144.7" r="4"/>
<circle cx="394.5" cy="115.2" r="4"/>
<circle cx="303.4" cy="77.5" r="4"/>
<circle cx="301.0" cy="146.6" r="4"/>
<circle cx="344.1" cy="128.2" r="4"/>
<circle cx="371.2" cy="130.6" r="4"/>
<circle cx="363.9" cy="148.8" r="4"/>
<circle cx="353.0" cy="204.4" r="4"/>
<circle cx="308.3" cy="160.2" r="4"/>
<circle cx="360.8" cy="56.7" r="4"/>
<circle cx="319.4" cy="198.3" r="4"/>
<circle cx="343.3" cy="100.9" r="4"/>
<circle cx="279.8" cy="112.3" r="4"/>
<circle cx="330.6" cy="133.8" r="4"/>
<circle cx="305.6" cy="120.5" r="4"/>
<circle cx="320.4" cy="148.1" r="4"/>
<circle cx="317.7" cy="195.5" r="4"/>
<circle cx="305.4" cy="140.1" r="4"/>
<circle cx="301.6" cy="123.1" r="4"/>
<circle cx="379.0" cy="194.5" r="4"/>
<circle cx="410.7" cy="177.0" r="4"/>
<circle cx="370.3" cy="63.8" r="4"/>
<circle cx="312.8" cy="149.3" r="4"/>
<circle cx="333.7" cy="121.5" r="4"/>
<circle cx="400.7" cy="181.8" r="4"/>
<circle cx="359.5" cy="176.8" r="4"/>
<circle cx="337.0" cy="205.9" r="4"/>
<circle cx="368.8" cy="204.8" r="4"/>
<circle cx="361.5" cy="164.2" r="4"/>
<circle cx="302.8" cy="137.8" r="4"/>
<circle cx="318.3" cy="66.9" r="4"/>
<circle cx="365.1" cy="163.5" r="4"/>
<circle cx="395.2" cy="114.4" r="4"/>
<circle cx="376.6" cy="132.6" r="4"/>
<circle cx="401.8" cy="108.2" r="4"/>
<circle cx="408.6" cy="166.1" r="4"/>
<circle cx="376.0" cy="144.9" r="4"/>
<circle cx="381.2" cy="148.8" r="4"/>
<circle cx="368.9" cy="132.9" r="4"/>
<circle cx="391.5" cy="143.9" r="4"/>
<circle cx="396.2" cy="162.4" r="4"/>
<circle cx="375.9" cy="110.7" r="4"/>
<circle cx="382.6" cy="139.8" r="4"/>
<circle cx="408.2" cy="149.7" r="4"/>
<circle cx="398.2" cy="168.1" r="4"/>
<circle cx="377.0" cy="118.2" r="4"/>
<circle cx="310.6" cy="36.9" r="4"/>
<circle cx="276.4" cy="45.8" r="4"/>
<circle cx="299.0" cy="57.4" r="4"/>
<circle cx="305.7" cy="59.9" r="4"/>
<circle cx="315.4" cy="52.5" r="4"/>
<circle cx="322.8" cy="50.3" r="4"/>
<circle cx="331.0" cy="51.7" r="4"/>
<circle cx="338.4" cy="58.4" r="4"/>
<circle cx="345.1" cy="65.1" r="4"/>
<circle cx="348.8" cy="47.3" r="4"/>
<circle cx="348.1" cy="56.2" r="4"/>
<circle cx="284.2" cy="75.5" r="4"/>
<circle cx="285.7" cy="81.5" r="4"/>
<circle cx="297.5" cy="80.0" r="4"/>
<circle cx="302.0" cy="82.9" r="4"/>
<circle cx="316.1" cy="76.3" r="4"/>
<circle cx="310.2" cy="87.4" r="4"/>
<circle cx="317.6" cy="84.4" r="4"/>
<circle cx="324.3" cy="77.0" r="4"/>
<circle cx="331.0" cy="77.7" r="4"/>
<circle cx="339.2" cy="81.5" r="4"/>
<circle cx="345.1" cy="72.5" r="4"/>
<circle cx="348.1" cy="84.4" r="4"/>
<circle cx="322.8" cy="91.9" r="4"/>
<circle cx="331.0" cy="94.8" r="4"/>
<circle cx="339.2" cy="90.4" r="4"/>
<circle cx="345.1" cy="91.9" r="4"/>
<circle cx="320.6" cy="102.3" r="4"/>
<circle cx="330.2" cy="100.8" r="4"/>
<circle cx="339.2" cy="102.3" r="4"/>
<circle cx="345.1" cy="99.3" r="4"/>
<circle cx="348.1" cy="108.2" r="4"/>
<circle cx="306.5" cy="100.8" r="4"/>
<circle cx="302.0" cy="93.4" r="4"/>
<circle cx="309.4" cy="94.8" r="4"/>
<circle cx="288.6" cy="99.3" r="4"/>
<circle cx="294.6" cy="102.3" r="4"/>
<circle cx="300.5" cy="105.2" r="4"/>
<circle cx="263.4" cy="114.2" r="4"/>
<circle cx="269.3" cy="117.9" r="4"/>
<circle cx="275.3" cy="120.1" r="4"/>
<circle cx="303.5" cy="115.6" r="4"/>
<circle cx="315.4" cy="114.2" r="4"/>
<circle cx="324.3" cy="112.7" r="4"/>
<circle cx="333.2" cy="117.1" r="4"/>
<circle cx="339.2" cy="108.2" r="4"/>
<circle cx="345.1" cy="115.6" r="4"/>
<circle cx="328.8" cy="121.6" r="4"/>
<circle cx="291.6" cy="120.1" r="4"/>
<circle cx="284.2" cy="96.3" r="4"/>
<circle cx="294.6" cy="94.8" r="4"/>
<circle cx="409.9" cy="45.1" r="4"/>
<circle cx="422.4" cy="52.0" r="4"/>
<circle cx="434.4" cy="51.4" r="4"/>
<circle cx="436.9" cy="54.7" r="4"/>
<circle cx="428.0" cy="61.8" r="4"/>
<circle cx="437.7" cy="66.3" r="4"/>
<circle cx="352.2" cy="47.3" r="4"/>
<circle cx="355.9" cy="53.2" r="4"/>
<circle cx="352.2" cy="57.7" r="4"/>
<circle cx="354.5" cy="69.6" r="4"/>
<circle cx="366.3" cy="69.6" r="4"/>
<circle cx="391.6" cy="65.1" r="4"/>
<circle cx="390.1" cy="69.6" r="4"/>
<circle cx="399.8" cy="76.3" r="4"/>
<circle cx="410.9" cy="77.0" r="4"/>
<circle cx="412.4" cy="84.4" r="4"/>
<circle cx="412.4" cy="90.4" r="4"/>
<circle cx="412.4" cy="97.8" r="4"/>
<circle cx="406.5" cy="97.8" r="4"/>
<circle cx="367.8" cy="81.5" r="4"/>
<circle cx="368.6" cy="88.9" r="4"/>
<circle cx="358.2" cy="89.6" r="4"/>
<circle cx="352.2" cy="85.9" r="4"/>
<circle cx="381.9" cy="88.9" r="4"/>
<circle cx="384.9" cy="94.8" r="4"/>
<circle cx="379.0" cy="84.4" r="4"/>
<circle cx="361.9" cy="99.3" r="4"/>
<circle cx="353.0" cy="100.8" r="4"/>
<circle cx="373.8" cy="97.8" r="4"/>
<circle cx="366.3" cy="102.3" r="4"/>
<circle cx="370.8" cy="108.2" r="4"/>
<circle cx="379.7" cy="105.2" r="4"/>
<circle cx="388.6" cy="100.8" r="4"/>
<circle cx="391.6" cy="108.2" r="4"/>
<circle cx="390.1" cy="117.1" r="4"/>
<circle cx="378.2" cy="114.2" r="4"/>
<circle cx="366.3" cy="114.2" r="4"/>
<circle cx="358.9" cy="111.2" r="4"/>
<circle cx="353.0" cy="109.7" r="4"/>
<circle cx="357.4" cy="120.1" r="4"/>
<circle cx="369.3" cy="121.6" r="4"/>
<circle cx="382.7" cy="120.1" r="4"/>
<circle cx="399.0" cy="114.2" r="4"/>
<circle cx="429.5" cy="112.7" r="4"/>
<circle cx="424.3" cy="121.6" r="4"/>
<circle cx="352.2" cy="117.1" r="4"/>
<circle cx="361.9" cy="117.1" r="4"/>
<circle cx="272.3" cy="122.2" r="4"/>
<circle cx="282.7" cy="121.5" r="4"/>
<circle cx="291.6" cy="121.5" r="4"/>
<circle cx="297.5" cy="125.9" r="4"/>
<circle cx="304.2" cy="126.7" r="4"/>
<circle cx="276.0" cy="137.1" r="4"/>
<circle cx="293.1" cy="137.8" r="4"/>
<circle cx="301.3" cy="140.8" r="4"/>
<circle cx="306.5" cy="147.5" r="4"/>
<circle cx="310.2" cy="146.7" r="4"/>
<circle cx="318.4" cy="151.2" r="4"/>
<circle cx="314.6" cy="155.7" r="4"/>
<circle cx="309.4" cy="163.1" r="4"/>
<circle cx="299.0" cy="162.3" r="4"/>
<circle cx="298.3" cy="164.6" r="4"/>
<circle cx="281.2" cy="164.6" r="4"/>
<circle cx="273.8" cy="171.3" r="4"/>
<circle cx="288.6" cy="183.9" r="4"/>
<circle cx="297.5" cy="185.4" r="4"/>
<circle cx="303.5" cy="183.9" r="4"/>
<circle cx="281.2" cy="188.4" r="4"/>
<circle cx="289.4" cy="202.5" r="4"/>
<circle cx="306.5" cy="194.3" r="4"/>
<circle cx="305.7" cy="201.7" r="4"/>
<circle cx="322.1" cy="126.7" r="4"/>
<circle cx="326.5" cy="138.6" r="4"/>
<circle cx="333.2" cy="134.9" r="4"/>
<circle cx="335.4" cy="148.2" r="4"/>
<circle cx="340.6" cy="151.9" r="4"/>
<circle cx="336.2" cy="160.1" r="4"/>
<circle cx="346.6" cy="160.1" r="4"/>
<circle cx="324.3" cy="164.6" r="4"/>
<circle cx="321.3" cy="171.3" r="4"/>
<circle cx="331.0" cy="172.0" r="4"/>
<circle cx="339.2" cy="176.5" r="4"/>
<circle cx="346.6" cy="169.0" r="4"/>
<circle cx="342.1" cy="188.4" r="4"/>
<circle cx="327.3" cy="183.9" r="4"/>
<circle cx="339.2" cy="209.2" r="4"/>
<circle cx="345.1" cy="215.1" r="4"/>
<circle cx="321.3" cy="215.1" r="4"/>
<circle cx="330.2" cy="215.1" r="4"/>
<circle cx="316.9" cy="205.4" r="4"/>
<circle cx="346.6" cy="197.3" r="4"/>
<circle cx="333.2" cy="125.9" r="4"/>
<circle cx="345.1" cy="125.9" r="4"/>
<circle cx="342.1" cy="142.3" r="4"/>
<circle cx="348.1" cy="149.7" r="4"/>
<circle cx="353.0" cy="123.0" r="4"/>
<circle cx="363.4" cy="121.5" r="4"/>
<circle cx="372.3" cy="123.0" r="4"/>
<circle cx="381.2" cy="122.2" r="4"/>
<circle cx="390.1" cy="124.5" r="4"/>
<circle cx="399.0" cy="123.0" r="4"/>
<circle cx="407.9" cy="124.5" r="4"/>
<circle cx="416.9" cy="121.5" r="4"/>
<circle cx="424.3" cy="123.0" r="4"/>
<circle cx="358.9" cy="128.9" r="4"/>
<circle cx="367.8" cy="128.9" r="4"/>
<circle cx="375.3" cy="131.9" r="4"/>
<circle cx="383.4" cy="133.4" r="4"/>
<circle cx="391.6" cy="134.9" r="4"/>
<circle cx="399.0" cy="131.9" r="4"/>
<circle cx="408.7" cy="133.4" r="4"/>
<circle cx="413.9" cy="137.8" r="4"/>
<circle cx="422.8" cy="137.8" r="4"/>
<circle cx="366.3" cy="139.3" r="4"/>
<circle cx="373.8" cy="139.3" r="4"/>
<circle cx="385.7" cy="143.0" r="4"/>
<circle cx="394.6" cy="144.5" r="4"/>
<circle cx="402.0" cy="142.3" r="4"/>
<circle cx="354.5" cy="151.2" r="4"/>
<circle cx="358.9" cy="154.2" r="4"/>
<circle cx="367.8" cy="154.2" r="4"/>
<circle cx="383.4" cy="155.7" r="4"/>
<circle cx="391.6" cy="154.2" r="4"/>
<circle cx="399.0" cy="155.7" r="4"/>
<circle cx="424.3" cy="155.7" r="4"/>
<circle cx="353.0" cy="164.6" r="4"/>
<circle cx="360.4" cy="163.1" r="4"/>
<circle cx="373.8" cy="164.6" r="4"/>
<circle cx="382.7" cy="164.6" r="4"/>
<circle cx="388.6" cy="169.0" r="4"/>
<circle cx="399.0" cy="166.1" r="4"/>
<circle cx="409.4" cy="164.6" r="4"/>
<circle cx="415.4" cy="169.0" r="4"/>
<circle cx="366.3" cy="172.0" r="4"/>
<circle cx="378.2" cy="172.0" r="4"/>
<circle cx="387.1" cy="172.0" r="4"/>
<circle cx="358.9" cy="177.9" r="4"/>
<circle cx="375.3" cy="177.9" r="4"/>
<circle cx="382.7" cy="179.4" r="4"/>
<circle cx="390.1" cy="183.9" r="4"/>
<circle cx="409.4" cy="186.9" r="4"/>
<circle cx="417.6" cy="188.4" r="4"/>
<circle cx="425.8" cy="189.1" r="4"/>
<circle cx="354.5" cy="189.8" r="4"/>
<circle cx="369.3" cy="188.4" r="4"/>
<circle cx="382.7" cy="185.4" r="4"/>
<circle cx="355.9" cy="197.3" r="4"/>
<circle cx="364.9" cy="195.8" r="4"/>
<circle cx="390.1" cy="201.0" r="4"/>
<circle cx="358.9" cy="206.2" r="4"/>
<circle cx="367.8" cy="209.2" r="4"/>
<circle cx="384.2" cy="210.6" r="4"/>
<circle cx="391.6" cy="207.7" r="4"/>
<circle cx="375.3" cy="215.1" r="4"/>
<circle cx="361.9" cy="217.3" r="4"/>
<circle cx="353.0" cy="212.1" r="4"/>
</g>
<g fill="#4beb69" fill-opacity="0.16" filter="url(#soft)">
<circle cx="551.7" cy="64.8" r="4"/>
<circle cx="549.1" cy="64.7" r="4"/>
<circle cx="552.1" cy="62.9" r="4"/>
<circle cx="551.1" cy="66.6" r="4"/>
<circle cx="548.5" cy="62.8" r="4"/>
<circle cx="554.2" cy="64.3" r="4"/>
<circle cx="548.1" cy="66.5" r="4"/>
<circle cx="551.0" cy="61.2" r="4"/>
<circle cx="553.5" cy="67.0" r="4"/>
<circle cx="546.4" cy="63.9" r="4"/>
<circle cx="554.7" cy="62.3" r="4"/>
<circle cx="549.7" cy="68.2" r="4"/>
<circle cx="548.3" cy="60.8" r="4"/>
<circle cx="555.9" cy="65.7" r="4"/>
<circle cx="545.7" cy="66.2" r="4"/>
<circle cx="553.1" cy="60.2" r="4"/>
<circle cx="552.7" cy="68.9" r="4"/>
<circle cx="545.5" cy="62.1" r="4"/>
<circle cx="556.9" cy="63.2" r="4"/>
<circle cx="547.3" cy="68.7" r="4"/>
<circle cx="550.3" cy="66.2" r="4"/>
<circle cx="549.3" cy="61.4" r="4"/>
<circle cx="555.0" cy="65.9" r="4"/>
<circle cx="545.8" cy="66.4" r="4"/>
<circle cx="553.5" cy="58.7" r="4"/>
<circle cx="552.9" cy="71.3" r="4"/>
<circle cx="543.8" cy="60.3" r="4"/>
<circle cx="559.7" cy="62.5" r="4"/>
<circle cx="544.9" cy="72.7" r="4"/>
<circle cx="549.4" cy="53.0" r="4"/>
<circle cx="560.9" cy="73.0" r="4"/>
<circle cx="534.4" cy="65.0" r="4"/>
<circle cx="602.6" cy="66.7" r="4"/>
<circle cx="601.5" cy="65.0" r="4"/>
<circle cx="604.2" cy="65.9" r="4"/>
<circle cx="601.0" cy="67.3" r="4"/>
<circle cx="602.7" cy="63.6" r="4"/>
<circle cx="604.1" cy="68.0" r="4"/>
<circle cx="599.7" cy="65.4" r="4"/>
<circle cx="605.1" cy="64.3" r="4"/>
<circle cx="601.7" cy="69.0" r="4"/>
<circle cx="600.9" cy="62.9" r="4"/>
<circle cx="605.9" cy="67.1" r="4"/>
<circle cx="599.0" cy="67.3" r="4"/>
<circle cx="604.2" cy="62.4" r="4"/>
<circle cx="603.7" cy="69.8" r="4"/>
<circle cx="598.9" cy="63.8" r="4"/>
<circle cx="606.8" cy="65.0" r="4"/>
<circle cx="599.9" cy="69.6" r="4"/>
<circle cx="601.9" cy="61.3" r="4"/>
<circle cx="606.1" cy="69.0" r="4"/>
<circle cx="597.6" cy="66.1" r="4"/>
<circle cx="606.1" cy="62.4" r="4"/>
<circle cx="602.2" cy="71.0" r="4"/>
<circle cx="599.2" cy="61.9" r="4"/>
<circle cx="607.8" cy="66.6" r="4"/>
<circle cx="598.0" cy="69.0" r="4"/>
<circle cx="603.7" cy="60.5" r="4"/>
<circle cx="605.3" cy="70.8" r="4"/>
<circle cx="597.0" cy="64.1" r="4"/>
<circle cx="601.0" cy="66.5" r="4"/>
<circle cx="603.8" cy="63.3" r="4"/>
<circle cx="603.5" cy="69.6" r="4"/>
<circle cx="598.6" cy="63.5" r="4"/>
<circle cx="607.7" cy="65.0" r="4"/>
<circle cx="598.9" cy="70.7" r="4"/>
<circle cx="601.9" cy="59.3" r="4"/>
<circle cx="607.9" cy="70.8" r="4"/>
<circle cx="594.5" cy="65.9" r="4"/>
<circle cx="608.9" cy="60.0" r="4"/>
<circle cx="601.7" cy="75.4" r="4"/>
<circle cx="596.2" cy="57.7" r="4"/>
<circle cx="613.7" cy="67.8" r="4"/>
<circle cx="592.0" cy="72.7" r="4"/>
<circle cx="606.1" cy="52.2" r="4"/>
<circle cx="610.5" cy="81.1" r="4"/>
<circle cx="625.8" cy="86.8" r="4"/>
<circle cx="626.2" cy="88.4" r="4"/>
<circle cx="623.5" cy="86.8" r="4"/>
<circle cx="628.0" cy="86.8" r="4"/>
<circle cx="624.1" cy="89.1" r="4"/>
<circle cx="624.7" cy="85.3" r="4"/>
<circle cx="628.5" cy="88.7" r="4"/>
<circle cx="621.7" cy="87.8" r="4"/>
<circle cx="628.0" cy="85.3" r="4"/>
<circle cx="625.8" cy="90.2" r="4"/>
<circle cx="622.2" cy="85.4" r="4"/>
<circle cx="630.3" cy="87.4" r="4"/>
<circle cx="621.8" cy="89.5" r="4"/>
<circle cx="626.0" cy="84.1" r="4"/>
<circle cx="628.7" cy="90.2" r="4"/>
<circle cx="620.1" cy="86.7" r="4"/>
<circle cx="630.4" cy="85.5" r="4"/>
<circle cx="623.9" cy="91.0" r="4"/>
<circle cx="622.8" cy="83.9" r="4"/>
<circle cx="631.3" cy="88.8" r="4"/>
<circle cx="619.6" cy="88.9" r="4"/>
<circle cx="628.4" cy="83.6" r="4"/>
<circle cx="627.4" cy="91.5" r="4"/>
<circle cx="619.7" cy="85.1" r="4"/>
<circle cx="632.3" cy="86.5" r="4"/>
<circle cx="621.3" cy="91.1" r="4"/>
<circle cx="624.7" cy="82.8" r="4"/>
<circle cx="631.1" cy="90.5" r="4"/>
<circle cx="618.0" cy="87.5" r="4"/>
<circle cx="631.0" cy="84.0" r="4"/>
<circle cx="625.0" cy="92.4" r="4"/>
<circle cx="620.5" cy="83.5" r="4"/>
<circle cx="633.4" cy="88.2" r="4"/>
<circle cx="618.8" cy="90.3" r="4"/>
<circle cx="627.4" cy="82.2" r="4"/>
<circle cx="629.5" cy="92.1" r="4"/>
<circle cx="617.5" cy="85.7" r="4"/>
<circle cx="633.4" cy="85.2" r="4"/>
<circle cx="622.0" cy="92.5" r="4"/>
<circle cx="622.6" cy="82.0" r="4"/>
<circle cx="633.3" cy="90.2" r="4"/>
<circle cx="616.7" cy="88.8" r="4"/>
<circle cx="626.8" cy="87.5" r="4"/>
<circle cx="623.7" cy="88.9" r="4"/>
<circle cx="625.9" cy="84.4" r="4"/>
<circle cx="627.5" cy="90.3" r="4"/>
<circle cx="621.5" cy="86.5" r="4"/>
<circle cx="629.5" cy="85.1" r="4"/>
<circle cx="624.0" cy="92.2" r="4"/>
<circle cx="623.2" cy="82.4" r="4"/>
<circle cx="631.0" cy="89.7" r="4"/>
<circle cx="619.5" cy="89.5" r="4"/>
<circle cx="628.7" cy="81.4" r="4"/>
<circle cx="627.3" cy="94.4" r="4"/>
<circle cx="619.1" cy="83.2" r="4"/>
<circle cx="633.5" cy="86.0" r="4"/>
<circle cx="620.2" cy="94.2" r="4"/>
<circle cx="624.8" cy="78.4" r="4"/>
<circle cx="632.5" cy="93.9" r="4"/>
<circle cx="615.4" cy="87.3" r="4"/>
<circle cx="633.4" cy="80.3" r="4"/>
<circle cx="624.4" cy="98.7" r="4"/>
<circle cx="618.2" cy="77.8" r="4"/>
<circle cx="638.2" cy="89.7" r="4"/>
<circle cx="613.7" cy="94.8" r="4"/>
<circle cx="629.6" cy="72.5" r="4"/>
<circle cx="633.8" cy="103.6" r="4"/>
<circle cx="639.6" cy="113.9" r="4"/>
<circle cx="642.0" cy="114.0" r="4"/>
<circle cx="639.2" cy="115.3" r="4"/>
<circle cx="640.0" cy="112.6" r="4"/>
<circle cx="642.6" cy="115.4" r="4"/>
<circle cx="637.2" cy="114.3" r="4"/>
<circle cx="642.8" cy="112.6" r="4"/>
<circle cx="640.3" cy="116.6" r="4"/>
<circle cx="637.8" cy="112.3" r="4"/>
<circle cx="644.5" cy="114.5" r="4"/>
<circle cx="636.8" cy="115.8" r="4"/>
<circle cx="641.4" cy="111.3" r="4"/>
<circle cx="642.8" cy="116.8" r="4"/>
<circle cx="635.7" cy="113.3" r="4"/>
<circle cx="645.0" cy="112.8" r="4"/>
<circle cx="638.4" cy="117.3" r="4"/>
<circle cx="638.5" cy="110.9" r="4"/>
<circle cx="645.4" cy="115.8" r="4"/>
<circle cx="634.8" cy="115.2" r="4"/>
<circle cx="643.6" cy="111.0" r="4"/>
<circle cx="641.5" cy="118.0" r="4"/>
<circle cx="635.4" cy="111.8" r="4"/>
<circle cx="646.8" cy="113.8" r="4"/>
<circle cx="636.0" cy="117.3" r="4"/>
<circle cx="640.4" cy="109.9" r="4"/>
<circle cx="645.0" cy="117.4" r="4"/>
<circle cx="633.5" cy="113.8" r="4"/>
<circle cx="646.0" cy="111.4" r="4"/>
<circle cx="640.8" cy="112.6" r="4"/>
<circle cx="641.8" cy="116.7" r="4"/>
<circle cx="636.8" cy="113.0" r="4"/>
<circle cx="644.6" cy="112.4" r="4"/>
<circle cx="638.3" cy="119.0" r="4"/>
<circle cx="638.5" cy="108.5" r="4"/>
<circle cx="646.2" cy="117.4" r="4"/>
<circle cx="633.3" cy="115.9" r="4"/>
<circle cx="644.9" cy="107.6" r="4"/>
<circle cx="641.7" cy="122.8" r="4"/>
<circle cx="633.0" cy="108.2" r="4"/>
<circle cx="650.7" cy="113.6" r="4"/>
<circle cx="632.5" cy="122.3" r="4"/>
<circle cx="640.7" cy="101.7" r="4"/>
<circle cx="649.7" cy="124.9" r="4"/>
<circle cx="623.4" cy="112.2" r="4"/>
<circle cx="642.6" cy="151.0" r="4"/>
<circle cx="640.5" cy="150.7" r="4"/>
<circle cx="643.1" cy="148.9" r="4"/>
<circle cx="642.0" cy="152.9" r="4"/>
<circle cx="640.1" cy="148.6" r="4"/>
<circle cx="644.6" cy="150.6" r="4"/>
<circle cx="639.7" cy="152.7" r="4"/>
<circle cx="642.3" cy="147.0" r="4"/>
<circle cx="643.9" cy="153.6" r="4"/>
<circle cx="638.4" cy="149.7" r="4"/>
<circle cx="645.1" cy="148.3" r="4"/>
<circle cx="640.8" cy="154.7" r="4"/>
<circle cx="640.1" cy="146.4" r="4"/>
<circle cx="645.9" cy="152.2" r="4"/>
<circle cx="637.7" cy="152.3" r="4"/>
<circle cx="644.0" cy="145.9" r="4"/>
<circle cx="643.2" cy="155.6" r="4"/>
<circle cx="637.7" cy="147.7" r="4"/>
<circle cx="646.8" cy="149.4" r="4"/>
<circle cx="638.8" cy="155.1" r="4"/>
<circle cx="641.3" cy="144.6" r="4"/>
<circle cx="646.0" cy="154.5" r="4"/>
<circle cx="636.4" cy="150.6" r="4"/>
<circle cx="646.0" cy="146.2" r="4"/>
<circle cx="641.5" cy="156.9" r="4"/>
<circle cx="641.4" cy="152.1" r="4"/>
<circle cx="640.7" cy="147.8" r="4"/>
<circle cx="645.5" cy="152.1" r="4"/>
<circle cx="637.4" cy="152.1" r="4"/>
<circle cx="644.5" cy="145.7" r="4"/>
<circle cx="643.4" cy="156.5" r="4"/>
<circle cx="636.1" cy="146.7" r="4"/>
<circle cx="649.5" cy="149.3" r="4"/>
<circle cx="636.7" cy="157.1" r="4"/>
<circle cx="641.2" cy="141.3" r="4"/>
<circle cx="649.2" cy="157.4" r="4"/>
<circle cx="630.8" cy="150.3" r="4"/>
<circle cx="651.1" cy="142.3" r="4"/>
<circle cx="640.5" cy="164.4" r="4"/>
<circle cx="631.8" cy="136.9" r="4"/>
<circle cx="624.5" cy="173.2" r="4"/>
<circle cx="626.2" cy="170.6" r="4"/>
<circle cx="626.3" cy="175.5" r="4"/>
<circle cx="623.0" cy="171.1" r="4"/>
<circle cx="628.6" cy="171.7" r="4"/>
<circle cx="623.6" cy="176.3" r="4"/>
<circle cx="624.9" cy="168.1" r="4"/>
<circle cx="628.7" cy="175.8" r="4"/>
<circle cx="621.1" cy="173.1" r="4"/>
<circle cx="628.7" cy="168.6" r="4"/>
<circle cx="625.4" cy="178.7" r="4"/>
<circle cx="622.1" cy="168.0" r="4"/>
<circle cx="630.8" cy="173.4" r="4"/>
<circle cx="621.0" cy="176.7" r="4"/>
<circle cx="626.6" cy="165.8" r="4"/>
<circle cx="624.1" cy="171.0" r="4"/>
<circle cx="629.4" cy="173.2" r="4"/>
<circle cx="621.2" cy="175.7" r="4"/>
<circle cx="626.9" cy="166.4" r="4"/>
<circle cx="629.3" cy="179.4" r="4"/>
<circle cx="617.0" cy="170.0" r="4"/>
<circle cx="635.0" cy="168.4" r="4"/>
<circle cx="620.7" cy="184.0" r="4"/>
<circle cx="620.3" cy="158.0" r="4"/>
<circle cx="600.8" cy="198.1" r="4"/>
<circle cx="602.7" cy="197.0" r="4"/>
<circle cx="601.8" cy="199.6" r="4"/>
<circle cx="600.0" cy="196.6" r="4"/>
<circle cx="604.5" cy="198.1" r="4"/>
<circle cx="599.4" cy="199.6" r="4"/>
<circle cx="602.1" cy="195.4" r="4"/>
<circle cx="603.7" cy="200.3" r="4"/>
<circle cx="598.0" cy="197.3" r="4"/>
<circle cx="605.2" cy="196.4" r="4"/>
<circle cx="600.4" cy="201.2" r="4"/>
<circle cx="599.8" cy="194.8" r="4"/>
<circle cx="605.9" cy="199.4" r="4"/>
<circle cx="597.2" cy="199.3" r="4"/>
<circle cx="604.0" cy="194.5" r="4"/>
<circle cx="603.0" cy="202.0" r="4"/>
<circle cx="597.2" cy="195.7" r="4"/>
<circle cx="607.1" cy="197.2" r="4"/>
<circle cx="598.3" cy="201.5" r="4"/>
<circle cx="601.2" cy="193.4" r="4"/>
<circle cx="606.0" cy="201.2" r="4"/>
<circle cx="595.7" cy="198.0" r="4"/>
<circle cx="606.2" cy="194.7" r="4"/>
<circle cx="601.1" cy="203.0" r="4"/>
<circle cx="597.8" cy="193.9" r="4"/>
<circle cx="601.0" cy="196.4" r="4"/>
<circle cx="604.4" cy="199.2" r="4"/>
<circle cx="598.0" cy="199.2" r="4"/>
<circle cx="604.0" cy="193.9" r="4"/>
<circle cx="602.9" cy="203.3" r="4"/>
<circle cx="596.6" cy="194.5" r="4"/>
<circle cx="608.6" cy="197.0" r="4"/>
<circle cx="596.8" cy="203.9" r="4"/>
<circle cx="601.2" cy="189.6" r="4"/>
<circle cx="608.3" cy="204.4" r="4"/>
<circle cx="591.6" cy="197.7" r="4"/>
<circle cx="610.1" cy="190.8" r="4"/>
<circle cx="600.2" cy="210.2" r="4"/>
<circle cx="593.6" cy="186.7" r="4"/>
<circle cx="618.3" cy="201.5" r="4"/>
<circle cx="549.8" cy="199.6" r="4"/>
<circle cx="547.7" cy="198.4" r="4"/>
<circle cx="551.2" cy="197.8" r="4"/>
<circle cx="548.4" cy="201.2" r="4"/>
<circle cx="548.2" cy="196.1" r="4"/>
<circle cx="552.2" cy="200.2" r="4"/>
<circle cx="545.9" cy="199.9" r="4"/>
<circle cx="551.2" cy="195.5" r="4"/>
<circle cx="550.2" cy="202.7" r="4"/>
<circle cx="545.8" cy="196.4" r="4"/>
<circle cx="553.7" cy="198.2" r="4"/>
<circle cx="546.3" cy="202.4" r="4"/>
<circle cx="549.1" cy="193.9" r="4"/>
<circle cx="552.9" cy="202.4" r="4"/>
<circle cx="544.1" cy="198.6" r="4"/>
<circle cx="553.5" cy="195.3" r="4"/>
<circle cx="548.6" cy="204.4" r="4"/>
<circle cx="546.0" cy="194.1" r="4"/>
<circle cx="547.9" cy="200.3" r="4"/>
<circle cx="549.3" cy="195.1" r="4"/>
<circle cx="552.7" cy="202.4" r="4"/>
<circle cx="543.3" cy="198.3" r="4"/>
<circle cx="554.9" cy="194.4" r="4"/>
<circle cx="547.9" cy="206.9" r="4"/>
<circle cx="544.2" cy="190.9" r="4"/>
<circle cx="559.8" cy="201.5" r="4"/>
<circle cx="538.1" cy="204.7" r="4"/>
<circle cx="554.6" cy="183.8" r="4"/>
<circle cx="519.5" cy="176.2" r="4"/>
<circle cx="520.9" cy="178.3" r="4"/>
<circle cx="517.4" cy="177.2" r="4"/>
<circle cx="521.5" cy="175.4" r="4"/>
<circle cx="519.4" cy="180.1" r="4"/>
<circle cx="517.6" cy="174.6" r="4"/>
<circle cx="523.1" cy="177.8" r="4"/>
<circle cx="516.4" cy="179.3" r="4"/>
<circle cx="520.6" cy="173.3" r="4"/>
<circle cx="521.6" cy="181.0" r="4"/>
<circle cx="515.4" cy="175.7" r="4"/>
<circle cx="523.9" cy="175.4" r="4"/>
<circle cx="517.6" cy="181.7" r="4"/>
<circle cx="518.0" cy="172.3" r="4"/>
<circle cx="521.8" cy="176.4" r="4"/>
<circle cx="517.7" cy="181.0" r="4"/>
<circle cx="518.0" cy="171.8" r="4"/>
<circle cx="525.6" cy="180.8" r="4"/>
<circle cx="511.4" cy="178.8" r="4"/>
<circle cx="525.5" cy="169.2" r="4"/>
<circle cx="520.9" cy="189.0" r="4"/>
<circle cx="508.1" cy="167.1" r="4"/>
<circle cx="510.7" cy="149.1" r="4"/>
<circle cx="508.0" cy="148.3" r="4"/>
<circle cx="511.7" cy="146.0" r="4"/>
<circle cx="509.7" cy="151.9" r="4"/>
<circle cx="507.8" cy="145.0" r="4"/>
<circle cx="513.5" cy="148.9" r="4"/>
<circle cx="506.6" cy="151.0" r="4"/>
<circle cx="510.9" cy="143.0" r="4"/>
<circle cx="512.1" cy="153.2" r="4"/>
<circle cx="505.3" cy="146.3" r="4"/>
<circle cx="514.5" cy="145.6" r="4"/>
<circle cx="508.7" cy="150.6" r="4"/>
<circle cx="508.4" cy="143.5" r="4"/>
<circle cx="515.7" cy="151.6" r="4"/>
<circle cx="501.5" cy="150.0" r="4"/>
<circle cx="516.2" cy="139.4" r="4"/>
<circle cx="511.7" cy="162.6" r="4"/>
<circle cx="508.2" cy="111.8" r="4"/>
<circle cx="509.5" cy="109.5" r="4"/>
<circle cx="510.7" cy="113.0" r="4"/>
<circle cx="506.0" cy="110.6" r="4"/>
<circle cx="512.4" cy="109.8" r="4"/>
<circle cx="507.9" cy="114.3" r="4"/>
<circle cx="507.4" cy="108.0" r="4"/>
<circle cx="513.6" cy="112.7" r="4"/>
<circle cx="504.4" cy="112.5" r="4"/>
<circle cx="511.7" cy="107.4" r="4"/>
<circle cx="510.6" cy="115.6" r="4"/>
<circle cx="504.3" cy="108.6" r="4"/>
<circle cx="515.3" cy="110.4" r="4"/>
<circle cx="505.2" cy="115.2" r="4"/>
<circle cx="507.3" cy="109.9" r="4"/>
<circle cx="513.4" cy="110.7" r="4"/>
<circle cx="505.6" cy="115.5" r="4"/>
<circle cx="508.9" cy="104.2" r="4"/>
<circle cx="515.1" cy="117.1" r="4"/>
<circle cx="499.3" cy="110.7" r="4"/>
<circle cx="518.4" cy="103.6" r="4"/>
<circle cx="507.1" cy="126.4" r="4"/>
<circle cx="519.0" cy="85.8" r="4"/>
<circle cx="522.1" cy="84.5" r="4"/>
<circle cx="519.7" cy="88.8" r="4"/>
<circle cx="518.5" cy="82.9" r="4"/>
<circle cx="524.1" cy="87.0" r="4"/>
<circle cx="516.4" cy="87.8" r="4"/>
<circle cx="519.6" cy="82.0" r="4"/>
<circle cx="526.3" cy="90.6" r="4"/>
<circle cx="508.0" cy="86.9" r="4"/>
<circle cx="574.0" cy="136.7" r="4"/>
<circle cx="574.9" cy="135.6" r="4"/>
<circle cx="574.9" cy="137.7" r="4"/>
<circle cx="573.2" cy="135.8" r="4"/>
<circle cx="576.1" cy="136.1" r="4"/>
<circle cx="573.5" cy="138.0" r="4"/>
<circle cx="574.2" cy="134.5" r="4"/>
<circle cx="576.2" cy="137.8" r="4"/>
<circle cx="572.2" cy="136.7" r="4"/>
<circle cx="572.6" cy="134.2" r="4"/>
<circle cx="579.9" cy="137.2" r="4"/>
<circle cx="568.3" cy="140.9" r="4"/>
<circle cx="576.6" cy="126.6" r="4"/>
<circle cx="581.6" cy="148.5" r="4"/>
<circle cx="591.9" cy="168.1" r="4"/>
<circle cx="601.8" cy="161.4" r="4"/>
<circle cx="548.2" cy="192.7" r="4"/>
<circle cx="591.6" cy="125.4" r="4"/>
<circle cx="611.1" cy="109.9" r="4"/>
<circle cx="512.5" cy="155.7" r="4"/>
<circle cx="598.8" cy="97.7" r="4"/>
<circle cx="616.7" cy="165.5" r="4"/>
<circle cx="533.0" cy="182.8" r="4"/>
<circle cx="603.2" cy="159.2" r="4"/>
<circle cx="629.2" cy="118.6" r="4"/>
<circle cx="619.4" cy="190.6" r="4"/>
<circle cx="561.0" cy="126.7" r="4"/>
<circle cx="521.4" cy="161.7" r="4"/>
<circle cx="544.7" cy="189.4" r="4"/>
<circle cx="542.1" cy="139.9" r="4"/>
<circle cx="561.9" cy="148.1" r="4"/>
<circle cx="529.5" cy="78.8" r="4"/>
<circle cx="617.5" cy="170.4" r="4"/>
<circle cx="588.7" cy="197.4" r="4"/>
<circle cx="530.9" cy="186.1" r="4"/>
<circle cx="597.8" cy="147.1" r="4"/>
<circle cx="557.1" cy="63.6" r="4"/>
<circle cx="529.0" cy="84.2" r="4"/>
<circle cx="545.5" cy="128.9" r="4"/>
<circle cx="611.3" cy="84.2" r="4"/>
<circle cx="585.2" cy="163.0" r="4"/>
<circle cx="506.3" cy="158.8" r="4"/>
<circle cx="556.9" cy="144.4" r="4"/>
<circle cx="605.1" cy="157.1" r="4"/>
<circle cx="581.7" cy="138.8" r="4"/>
<circle cx="529.7" cy="129.2" r="4"/>
<circle cx="518.1" cy="126.9" r="4"/>
<circle cx="583.8" cy="173.9" r="4"/>
<circle cx="561.0" cy="53.1" r="4"/>
<circle cx="582.4" cy="82.8" r="4"/>
<circle cx="616.6" cy="112.2" r="4"/>
<circle cx="558.9" cy="195.5" r="4"/>
<circle cx="560.9" cy="105.8" r="4"/>
<circle cx="553.7" cy="126.9" r="4"/>
<circle cx="512.9" cy="137.5" r="4"/>
<circle cx="645.4" cy="140.1" r="4"/>
<circle cx="632.7" cy="169.0" r="4"/>
<circle cx="628.1" cy="181.2" r="4"/>
<circle cx="538.6" cy="127.1" r="4"/>
<circle cx="552.8" cy="91.9" r="4"/>
<circle cx="589.4" cy="100.9" r="4"/>
<circle cx="597.0" cy="143.2" r="4"/>
<circle cx="514.7" cy="120.8" r="4"/>
<circle cx="560.4" cy="163.1" r="4"/>
<circle cx="588.3" cy="94.8" r="4"/>
<circle cx="604.0" cy="104.2" r="4"/>
<circle cx="609.6" cy="101.3" r="4"/>
<circle cx="592.3" cy="125.3" r="4"/>
<circle cx="594.0" cy="93.9" r="4"/>
<circle cx="595.4" cy="101.6" r="4"/>
<circle cx="593.3" cy="109.5" r="4"/>
<circle cx="619.7" cy="93.0" r="4"/>
<circle cx="600.4" cy="114.7" r="4"/>
<circle cx="617.7" cy="128.0" r="4"/>
<circle cx="590.3" cy="109.5" r="4"/>
<circle cx="617.6" cy="90.1" r="4"/>
<circle cx="606.8" cy="95.0" r="4"/>
<circle cx="613.4" cy="125.5" r="4"/>
<circle cx="604.9" cy="88.4" r="4"/>
<circle cx="587.4" cy="104.6" r="4"/>
<circle cx="618.6" cy="141.8" r="4"/>
<circle cx="611.1" cy="150.3" r="4"/>
<circle cx="594.1" cy="165.2" r="4"/>
<circle cx="595.9" cy="148.6" r="4"/>
<circle cx="615.1" cy="154.8" r="4"/>
<circle cx="615.9" cy="155.8" r="4"/>
<circle cx="589.7" cy="152.2" r="4"/>
<circle cx="619.7" cy="158.2" r="4"/>
<circle cx="623.5" cy="130.1" r="4"/>
<circle cx="597.3" cy="168.5" r="4"/>
<circle cx="611.8" cy="158.0" r="4"/>
<circle cx="610.9" cy="173.8" r="4"/>
<circle cx="611.7" cy="157.4" r="4"/>
<circle cx="606.6" cy="163.3" r="4"/>
<circle cx="596.6" cy="163.5" r="4"/>
<circle cx="608.8" cy="169.3" r="4"/>
<circle cx="603.2" cy="131.4" r="4"/>
<circle cx="605.6" cy="172.9" r="4"/>
<circle cx="609.9" cy="162.2" r="4"/>
<circle cx="599.4" cy="147.8" r="4"/>
<circle cx="613.2" cy="133.9" r="4"/>
<circle cx="619.4" cy="173.8" r="4"/>
<circle cx="533.7" cy="52.5" r="4"/>
<circle cx="570.1" cy="50.3" r="4"/>
<circle cx="560.4" cy="53.2" r="4"/>
<circle cx="544.8" cy="54.7" r="4"/>
<circle cx="525.5" cy="67.3" r="4"/>
<circle cx="534.4" cy="67.3" r="4"/>
<circle cx="538.9" cy="68.1" r="4"/>
<circle cx="565.6" cy="65.1" r="4"/>
<circle cx="570.1" cy="72.5" r="4"/>
<circle cx="505.5" cy="75.5" r="4"/>
<circle cx="514.4" cy="81.5" r="4"/>
<circle cx="538.9" cy="78.5" r="4"/>
<circle cx="543.4" cy="81.5" r="4"/>
<circle cx="552.3" cy="78.5" r="4"/>
<circle cx="558.2" cy="75.5" r="4"/>
<circle cx="564.2" cy="84.4" r="4"/>
<circle cx="570.1" cy="84.4" r="4"/>
<circle cx="533.7" cy="90.4" r="4"/>
<circle cx="547.8" cy="88.9" r="4"/>
<circle cx="553.8" cy="87.4" r="4"/>
<circle cx="552.3" cy="94.8" r="4"/>
<circle cx="559.7" cy="94.8" r="4"/>
<circle cx="501.0" cy="91.1" r="4"/>
<circle cx="512.1" cy="93.4" r="4"/>
<circle cx="518.1" cy="97.8" r="4"/>
<circle cx="512.1" cy="102.3" r="4"/>
<circle cx="536.7" cy="101.5" r="4"/>
<circle cx="561.2" cy="99.3" r="4"/>
<circle cx="570.1" cy="93.4" r="4"/>
<circle cx="573.1" cy="102.3" r="4"/>
<circle cx="494.3" cy="108.2" r="4"/>
<circle cx="503.2" cy="103.8" r="4"/>
<circle cx="524.0" cy="112.7" r="4"/>
<circle cx="531.5" cy="111.2" r="4"/>
<circle cx="544.8" cy="112.7" r="4"/>
<circle cx="564.2" cy="106.7" r="4"/>
<circle cx="570.1" cy="114.2" r="4"/>
<circle cx="561.2" cy="118.6" r="4"/>
<circle cx="495.8" cy="123.8" r="4"/>
<circle cx="516.6" cy="121.6" r="4"/>
<circle cx="532.9" cy="121.6" r="4"/>
<circle cx="573.1" cy="121.6" r="4"/>
<circle cx="578.7" cy="38.4" r="4"/>
<circle cx="583.2" cy="39.9" r="4"/>
<circle cx="656.0" cy="53.2" r="4"/>
<circle cx="661.2" cy="56.9" r="4"/>
<circle cx="662.7" cy="62.9" r="4"/>
<circle cx="594.3" cy="48.8" r="4"/>
<circle cx="599.5" cy="52.5" r="4"/>
<circle cx="578.0" cy="56.2" r="4"/>
<circle cx="583.9" cy="56.2" r="4"/>
<circle cx="581.7" cy="64.4" r="4"/>
<circle cx="631.5" cy="64.4" r="4"/>
<circle cx="635.9" cy="69.6" r="4"/>
<circle cx="621.1" cy="69.6" r="4"/>
<circle cx="639.6" cy="78.5" r="4"/>
<circle cx="646.3" cy="85.2" r="4"/>
<circle cx="649.3" cy="97.8" r="4"/>
<circle cx="641.9" cy="94.8" r="4"/>
<circle cx="589.9" cy="81.5" r="4"/>
<circle cx="578.0" cy="82.9" r="4"/>
<circle cx="594.3" cy="88.9" r="4"/>
<circle cx="583.9" cy="93.4" r="4"/>
<circle cx="598.8" cy="91.9" r="4"/>
<circle cx="607.7" cy="94.8" r="4"/>
<circle cx="589.9" cy="99.3" r="4"/>
<circle cx="578.0" cy="102.3" r="4"/>
<circle cx="601.7" cy="102.3" r="4"/>
<circle cx="610.7" cy="100.8" r="4"/>
<circle cx="583.9" cy="108.2" r="4"/>
<circle cx="592.8" cy="108.2" r="4"/>
<circle cx="604.7" cy="109.7" r="4"/>
<circle cx="616.6" cy="105.2" r="4"/>
<circle cx="622.5" cy="102.3" r="4"/>
<circle cx="578.0" cy="114.2" r="4"/>
<circle cx="588.4" cy="114.2" r="4"/>
<circle cx="598.8" cy="115.6" r="4"/>
<circle cx="610.7" cy="118.6" r="4"/>
<circle cx="619.6" cy="114.2" r="4"/>
<circle cx="631.5" cy="105.2" r="4"/>
<circle cx="649.3" cy="106.7" r="4"/>
<circle cx="652.3" cy="114.2" r="4"/>
<circle cx="495.8" cy="125.9" r="4"/>
<circle cx="506.2" cy="121.5" r="4"/>
<circle cx="513.6" cy="123.0" r="4"/>
<circle cx="525.5" cy="126.7" r="4"/>
<circle cx="531.5" cy="128.9" r="4"/>
<circle cx="536.7" cy="125.9" r="4"/>
<circle cx="501.0" cy="133.4" r="4"/>
<circle cx="509.2" cy="134.9" r="4"/>
<circle cx="530.0" cy="140.1" r="4"/>
<circle cx="529.2" cy="146.0" r="4"/>
<circle cx="520.3" cy="146.0" r="4"/>
<circle cx="498.8" cy="158.6" r="4"/>
<circle cx="527.0" cy="157.9" r="4"/>
<circle cx="517.3" cy="165.3" r="4"/>
<circle cx="510.7" cy="174.2" r="4"/>
<circle cx="538.9" cy="169.8" r="4"/>
<circle cx="534.4" cy="178.7" r="4"/>
<circle cx="550.8" cy="132.6" r="4"/>
<circle cx="553.8" cy="142.3" r="4"/>
<circle cx="556.0" cy="151.2" r="4"/>
<circle cx="565.6" cy="150.5" r="4"/>
<circle cx="564.9" cy="159.4" r="4"/>
<circle cx="553.8" cy="169.0" r="4"/>
<circle cx="555.2" cy="177.9" r="4"/>
<circle cx="560.4" cy="185.4" r="4"/>
<circle cx="570.1" cy="183.9" r="4"/>
<circle cx="573.1" cy="154.2" r="4"/>
<circle cx="567.1" cy="139.3" r="4"/>
<circle cx="558.2" cy="122.2" r="4"/>
<circle cx="570.1" cy="127.4" r="4"/>
<circle cx="506.2" cy="189.1" r="4"/>
<circle cx="511.4" cy="189.1" r="4"/>
<circle cx="521.8" cy="198.0" r="4"/>
<circle cx="526.3" cy="195.0" r="4"/>
<circle cx="538.2" cy="188.4" r="4"/>
<circle cx="540.4" cy="209.2" r="4"/>
<circle cx="548.6" cy="216.6" r="4"/>
<circle cx="493.6" cy="214.4" r="4"/>
<circle cx="562.7" cy="198.8" r="4"/>
<circle cx="570.1" cy="197.3" r="4"/>
<circle cx="573.1" cy="203.2" r="4"/>
<circle cx="571.6" cy="213.6" r="4"/>
<circle cx="637.4" cy="133.4" r="4"/>
<circle cx="646.3" cy="128.2" r="4"/>
<circle cx="655.2" cy="143.8" r="4"/>
<circle cx="650.8" cy="157.1" r="4"/>
<circle cx="652.3" cy="176.5" r="4"/>
<circle cx="650.8" cy="188.4" r="4"/>
<circle cx="633.7" cy="189.8" r="4"/>
<circle cx="627.0" cy="191.3" r="4"/>
<circle cx="578.0" cy="201.7" r="4"/>
<circle cx="580.9" cy="209.2" r="4"/>
<circle cx="589.9" cy="215.1" r="4"/>
<circle cx="583.9" cy="197.3" r="4"/>
<circle cx="612.1" cy="206.2" r="4"/>
<circle cx="616.6" cy="197.3" r="4"/>
<circle cx="610.7" cy="186.9" r="4"/>
<circle cx="594.3" cy="185.4" r="4"/>
<circle cx="582.4" cy="183.9" r="4"/>
<circle cx="591.3" cy="175.0" r="4"/>
<circle cx="603.2" cy="176.5" r="4"/>
<circle cx="583.9" cy="169.0" r="4"/>
<circle cx="595.8" cy="167.5" r="4"/>
<circle cx="609.2" cy="167.5" r="4"/>
<circle cx="616.6" cy="161.6" r="4"/>
<circle cx="622.5" cy="154.2" r="4"/>
<circle cx="628.5" cy="142.3" r="4"/>
<circle cx="619.6" cy="136.3" r="4"/>
<circle cx="609.2" cy="131.9" r="4"/>
<circle cx="600.3" cy="125.9" r="4"/>
<circle cx="613.6" cy="123.0" r="4"/>
<circle cx="624.0" cy="124.5" r="4"/>
<circle cx="631.5" cy="152.7" r="4"/>
<circle cx="604.7" cy="152.7" r="4"/>
<circle cx="594.3" cy="149.7" r="4"/>
<circle cx="583.9" cy="151.2" r="4"/>
<circle cx="578.0" cy="143.8" r="4"/>
<circle cx="589.9" cy="142.3" r="4"/>
<circle cx="598.8" cy="139.3" r="4"/>
<circle cx="609.2" cy="142.3" r="4"/>
<circle cx="592.8" cy="160.1" r="4"/>
<circle cx="604.7" cy="160.1" r="4"/>
<circle cx="578.0" cy="161.6" r="4"/>
<circle cx="585.4" cy="209.2" r="4"/>
<circle cx="581.4" cy="241.6" r="4"/>
</g>
<line x1="125.7" y1="136.5" x2="138.2" y2="120.1" stroke="#000" stroke-width="4.6"/>
<line x1="349.6" y1="136.4" x2="357.6" y2="129" stroke="#000" stroke-width="5.5"/>
<line x1="576" y1="136.4" x2="591.5" y2="124" stroke="#000" stroke-width="4.8"/>
<g font-family="Liberation Sans, sans-serif" fill="#111">
<text x="0.8" y="29.6" font-size="29" font-weight="bold">A</text>
<text x="124.4" y="19.7" font-size="20" text-anchor="middle">No sound</text>
<text x="344.4" y="19.4" font-size="20.2" text-anchor="middle">Synthetic</text>
<text x="576.2" y="19.6" font-size="20.3" text-anchor="middle">Natural</text>
<text x="643.6" y="232.7" font-size="16" text-anchor="middle">Valence</text>
<text transform="translate(682.2,181) rotate(-90)" font-size="16.2" text-anchor="middle">Activation</text>
</g>
<line x1="628" y1="214.4" x2="656" y2="214.4" stroke="#000" stroke-width="1.2"/>
<path d="M662,214.4 L655,211.2 L655,217.6 Z" fill="#000"/>
<line x1="664.2" y1="208.6" x2="664.2" y2="182" stroke="#000" stroke-width="1.2"/>
<path d="M664.2,175.6 L661,182.6 L667.4,182.6 Z" fill="#000"/>
<path d="M63.3,591.0 L202.80,366.70 L200.69,365.58 L198.56,364.47 L196.43,363.39 L194.28,362.32 L192.13,361.26 L189.96,360.23 L187.79,359.21 L185.61,358.21 L183.41,357.23 L181.21,356.27 L179.00,355.32 L176.78,354.39 L174.55,353.48 L172.31,352.59 L170.07,351.72 L167.82,350.86 L165.55,350.02 L163.28,349.20 L161.01,348.40 L158.72,347.62 L156.43,346.86 L154.13,346.11 L151.83,345.38 L149.52,344.68 L147.20,343.99 L144.87,343.32 L142.54,342.67 L140.20,342.03 L137.86,341.42 L135.51,340.83 L133.16,340.25 L130.80,339.69 L128.43,339.16 L126.06,338.64 L123.69,338.14 L121.31,337.66 L118.92,337.20 L116.54,336.76 L114.14,336.34 L111.75,335.93 L109.35,335.55 L106.95,335.19 L104.54,334.84 L102.13,334.52 L99.72,334.22 L97.30,333.93 L94.88,333.66 L92.46,333.42 L90.04,333.19 L87.62,332.99 L85.19,332.80 L82.76,332.63 L80.33,332.48 L77.90,332.35 L75.47,332.25 L73.04,332.16 L70.60,332.09 L68.17,332.04 L65.73,332.01 L63.30,332.00 Z" fill="#555555"/>
<path d="M63.3,591.0 L304.92,461.50 L303.69,459.55 L302.45,457.61 L301.19,455.67 L299.91,453.75 L298.61,451.84 L297.29,449.94 L295.95,448.05 L294.60,446.17 L293.23,444.30 L291.84,442.44 L290.44,440.60 L289.02,438.76 L287.58,436.94 L286.12,435.13 L284.65,433.33 L283.16,431.54 L281.65,429.77 L280.12,428.01 L278.58,426.26 L277.03,424.52 L275.45,422.79 L273.86,421.08 L272.26,419.38 L270.64,417.70 L269.00,416.02 L267.35,414.36 L265.68,412.72 L264.00,411.08 L262.30,409.46 L260.58,407.86 L258.85,406.27 L257.11,404.69 L255.35,403.13 L253.58,401.58 L251.79,400.05 L249.99,398.53 L248.17,397.02 L246.34,395.53 L244.50,394.05 L242.64,392.59 L240.77,391.15 L238.88,389.72 L236.98,388.30 L235.07,386.91 L233.14,385.52 L231.21,384.15 L229.26,382.80 L227.29,381.46 L225.32,380.14 L223.33,378.84 L221.33,377.55 L219.31,376.28 L217.29,375.02 L215.25,373.78 L213.21,372.56 L211.15,371.36 L209.08,370.17 L207.00,368.99 L204.90,367.84 L202.80,366.70 Z" fill="#707070"/>
<path d="M63.3,591.0 L342.30,591.00 L342.29,588.74 L342.26,586.48 L342.20,584.22 L342.13,581.96 L342.03,579.70 L341.92,577.44 L341.78,575.19 L341.62,572.93 L341.44,570.68 L341.24,568.43 L341.02,566.18 L340.77,563.93 L340.51,561.68 L340.22,559.44 L339.91,557.19 L339.58,554.95 L339.24,552.72 L338.87,550.48 L338.47,548.25 L338.06,546.03 L337.63,543.80 L337.17,541.58 L336.70,539.36 L336.20,537.15 L335.69,534.94 L335.15,532.74 L334.59,530.54 L334.01,528.34 L333.41,526.15 L332.79,523.97 L332.15,521.79 L331.49,519.61 L330.81,517.44 L330.11,515.28 L329.39,513.12 L328.64,510.96 L327.88,508.82 L327.10,506.68 L326.30,504.54 L325.47,502.42 L324.63,500.30 L323.77,498.18 L322.89,496.08 L321.98,493.98 L321.06,491.88 L320.12,489.80 L319.16,487.72 L318.18,485.66 L317.18,483.59 L316.16,481.54 L315.12,479.50 L314.06,477.46 L312.99,475.43 L311.89,473.42 L310.78,471.41 L309.64,469.41 L308.49,467.42 L307.32,465.43 L306.13,463.46 L304.92,461.50 Z" fill="#8c8c8c"/>
<line x1="63.3" y1="591.0" x2="202.80" y2="366.70" stroke="#8a8a8a" stroke-width="0.8"/>
<line x1="63.3" y1="591.0" x2="304.92" y2="461.50" stroke="#a5a5a5" stroke-width="0.8"/>
<path d="M342.30,591.00 L342.29,589.30 L342.28,587.61 L342.25,585.91 L342.20,584.22 L342.15,582.53 L342.08,580.83 L342.01,579.14 L341.92,577.44 L341.82,575.75 L341.70,574.06 L341.58,572.37 L341.44,570.68 L341.29,568.99 L341.13,567.30 L340.96,565.61 L340.77,563.93 L340.57,562.24 L340.37,560.56 L340.15,558.88 L339.91,557.19 L339.67,555.51 L339.41,553.84 L339.14,552.16 L338.87,550.48 L338.57,548.81 L338.27,547.14 L337.96,545.47 L337.63,543.80 L337.29,542.14 L336.94,540.47 L336.58,538.81 L336.20,537.15 L335.82,535.49 L335.42,533.84 L335.01,532.19 L334.59,530.54 L334.16,528.89 L333.72,527.25 L333.26,525.60 L332.79,523.97 L332.31,522.33 L331.83,520.70 L331.32,519.07 L330.81,517.44 L330.29,515.82 L329.75,514.20 L329.20,512.58 L328.64,510.96 L328.07,509.35 L327.49,507.75 L326.90,506.14 L326.30,504.54 L325.68,502.95 L325.06,501.36 L324.42,499.77 L323.77,498.18 L323.11,496.60 L322.44,495.03 L321.76,493.45 L321.06,491.88 L320.36,490.32 L319.64,488.76 L318.92,487.21 L318.18,485.66 L317.43,484.11 L316.67,482.57 L315.90,481.03 L315.12,479.50 L314.33,477.97 L313.53,476.45 L312.71,474.93 L311.89,473.42 L311.06,471.91 L310.21,470.41 L309.36,468.91 L308.49,467.42 L307.61,465.93 L306.73,464.45 L305.83,462.97 L304.92,461.50 L304.00,460.03 L303.07,458.58 L302.14,457.12 L301.19,455.67 L300.23,454.23 L299.26,452.79 L298.28,451.36 L297.29,449.94 L296.29,448.52 L295.28,447.11 L294.26,445.70 L293.23,444.30 L292.19,442.91 L291.14,441.52 L290.08,440.14 L289.02,438.76 L287.94,437.40 L286.85,436.03 L285.75,434.68 L284.65,433.33 L283.53,431.99 L282.40,430.65 L281.27,429.33 L280.12,428.01 L278.97,426.69 L277.81,425.39 L276.63,424.09 L275.45,422.79 L274.26,421.51 L273.06,420.23 L271.85,418.96 L270.64,417.70 L269.41,416.44 L268.18,415.19 L266.93,413.95 L265.68,412.72 L264.42,411.49 L263.15,410.27 L261.87,409.06 L260.58,407.86 L259.29,406.66 L257.98,405.48 L256.67,404.30 L255.35,403.13 L254.02,401.97 L252.69,400.81 L251.34,399.66 L249.99,398.53 L248.63,397.40 L247.26,396.27 L245.88,395.16 L244.50,394.05 L243.10,392.96 L241.70,391.87 L240.30,390.79 L238.88,389.72 L237.46,388.66 L236.03,387.60 L234.59,386.56 L233.14,385.52 L231.69,384.49 L230.23,383.48 L228.77,382.47 L227.29,381.46 L225.81,380.47 L224.32,379.49 L222.83,378.52 L221.33,377.55 L219.82,376.60 L218.30,375.65 L216.78,374.71 L215.25,373.78 L213.72,372.87 L212.18,371.96 L210.63,371.06 L209.08,370.17 L207.52,369.29 L205.95,368.41 L204.38,367.55 L202.80,366.70 L201.22,365.86 L199.63,365.02 L198.03,364.20 L196.43,363.39 L194.82,362.58 L193.21,361.79 L191.59,361.00 L189.96,360.23 L188.33,359.46 L186.70,358.71 L185.06,357.97 L183.41,357.23 L181.76,356.51 L180.11,355.79 L178.45,355.09 L176.78,354.39 L175.11,353.71 L173.43,353.03 L171.75,352.37 L170.07,351.72 L168.38,351.07 L166.69,350.44 L164.99,349.82 L163.28,349.20 L161.58,348.60 L159.87,348.01 L158.15,347.43 L156.43,346.86 L154.71,346.30 L152.98,345.75 L151.25,345.21 L149.52,344.68 L147.78,344.16 L146.04,343.65 L144.29,343.15 L142.54,342.67 L140.79,342.19 L139.03,341.72 L137.27,341.27 L135.51,340.83 L133.75,340.39 L131.98,339.97 L130.21,339.56 L128.43,339.16 L126.65,338.77 L124.87,338.39 L123.09,338.02 L121.31,337.66 L119.52,337.31 L117.73,336.98 L115.94,336.65 L114.14,336.34 L112.35,336.03 L110.55,335.74 L108.75,335.46 L106.95,335.19 L105.14,334.93 L103.33,334.68 L101.53,334.44 L99.72,334.22 L97.91,334.00 L96.09,333.80 L94.28,333.60 L92.46,333.42 L90.65,333.25 L88.83,333.09 L87.01,332.94 L85.19,332.80 L83.37,332.67 L81.55,332.55 L79.72,332.45 L77.90,332.35 L76.08,332.27 L74.25,332.20 L72.43,332.14 L70.60,332.09 L68.78,332.05 L66.95,332.02 L65.13,332.01 L63.30,332.00" fill="none" stroke="#606060" stroke-width="1.1" stroke-dasharray="1.4 1.6" stroke-opacity="0.9"/>
<path d="M69.02,526.47 L69.88,526.54 L70.74,526.62 L71.60,526.71 L72.46,526.81 L73.31,526.92 L74.17,527.04 L75.02,527.17 L75.88,527.31 L76.73,527.46 L77.57,527.62 L78.42,527.79 L79.26,527.97 L80.10,528.16 L80.94,528.36 L81.78,528.56 L82.61,528.78 L83.44,529.01 L84.27,529.25 L85.09,529.49 L85.91,529.75 L86.73,530.01 L87.54,530.29 L88.35,530.57 L89.16,530.86 L89.96,531.17 L90.76,531.48 L91.55,531.80 L92.34,532.13 L93.12,532.47 L93.90,532.82 L94.68,533.17 L95.45,533.54 L96.21,533.91 L96.98,534.30 L97.73,534.69 L98.48,535.09 L99.22,535.50 L99.96,535.92 L100.70,536.34 L101.42,536.78 L102.15,537.22 L102.86,537.67 L103.57,538.13 L104.28,538.60 L104.97,539.08 L105.66,539.56 L106.35,540.05 L107.02,540.55 L107.70,541.06 L108.36,541.57 L109.02,542.10 L109.67,542.63 L110.31,543.17 L110.95,543.71 L111.57,544.26 L112.19,544.82 L112.81,545.39 L113.41,545.96 L114.01,546.54 L114.60,547.13 L115.18,547.72 L115.76,548.33 L116.32,548.93 L116.88,549.55 L117.43,550.17 L117.97,550.79 L118.51,551.43 L119.03,552.07 L119.55,552.71 L120.06,553.36 L120.55,554.02 L121.04,554.68 L121.52,555.35 L122.00,556.02 L122.46,556.70 L122.91,557.38 L123.36,558.07 L123.79,558.77 L124.22,559.47 L124.64,560.17 L125.04,560.88 L125.44,561.59 L125.83,562.31 L126.21,563.03 L126.58,563.76 L126.94,564.49 L127.29,565.23 L127.63,565.96 L127.95,566.71 L128.27,567.45 L128.58,568.20 L128.88,568.96 L129.17,569.71 L129.45,570.47 L129.72,571.24 L129.98,572.00 L130.23,572.77 L130.47,573.55 L130.70,574.32 L130.91,575.10 L131.12,575.88 L131.32,576.66 L131.50,577.44 L131.68,578.23 L131.85,579.02 L132.00,579.81 L132.14,580.60 L132.28,581.40 L132.40,582.19 L132.51,582.99 L132.62,583.79 L132.71,584.58 L132.79,585.38 L132.86,586.18 L132.92,586.99 L132.96,587.79 L133.00,588.59 L133.03,589.39 L133.04,590.20 L133.05,591.00" fill="none" stroke="#fff" stroke-width="1.3" stroke-dasharray="1.3 3.6" stroke-opacity="0.85"/>
<path d="M74.73,461.94 L76.45,462.08 L78.18,462.24 L79.90,462.42 L81.61,462.62 L83.33,462.84 L85.04,463.08 L86.75,463.34 L88.45,463.62 L90.15,463.92 L91.85,464.24 L93.54,464.58 L95.23,464.94 L96.91,465.31 L98.59,465.71 L100.26,466.13 L101.92,466.56 L103.58,467.02 L105.24,467.49 L106.88,467.98 L108.52,468.49 L110.16,469.02 L111.79,469.57 L113.40,470.14 L115.02,470.73 L116.62,471.33 L118.21,471.96 L119.80,472.60 L121.38,473.26 L122.95,473.93 L124.51,474.63 L126.06,475.34 L127.60,476.08 L129.13,476.83 L130.65,477.59 L132.16,478.38 L133.66,479.18 L135.15,480.00 L136.63,480.83 L138.09,481.69 L139.55,482.56 L140.99,483.44 L142.42,484.35 L143.84,485.27 L145.25,486.20 L146.64,487.15 L148.03,488.12 L149.39,489.10 L150.75,490.10 L152.09,491.12 L153.42,492.15 L154.73,493.19 L156.03,494.26 L157.32,495.33 L158.59,496.42 L159.85,497.53 L161.09,498.64 L162.32,499.78 L163.53,500.93 L164.72,502.09 L165.90,503.26 L167.07,504.45 L168.22,505.65 L169.35,506.87 L170.47,508.09 L171.56,509.33 L172.65,510.59 L173.71,511.85 L174.76,513.13 L175.80,514.42 L176.81,515.72 L177.81,517.04 L178.79,518.36 L179.75,519.70 L180.69,521.04 L181.62,522.40 L182.53,523.77 L183.42,525.15 L184.29,526.53 L185.14,527.93 L185.97,529.34 L186.79,530.76 L187.58,532.18 L188.36,533.62 L189.12,535.07 L189.85,536.52 L190.57,537.98 L191.27,539.45 L191.95,540.93 L192.61,542.41 L193.25,543.91 L193.87,545.41 L194.47,546.91 L195.05,548.43 L195.61,549.95 L196.14,551.48 L196.66,553.01 L197.16,554.55 L197.64,556.09 L198.09,557.64 L198.53,559.20 L198.94,560.76 L199.34,562.32 L199.71,563.89 L200.06,565.46 L200.39,567.04 L200.70,568.62 L200.99,570.20 L201.26,571.79 L201.50,573.38 L201.73,574.97 L201.93,576.57 L202.11,578.17 L202.27,579.77 L202.41,581.37 L202.53,582.97 L202.63,584.58 L202.70,586.18 L202.76,587.79 L202.79,589.39 L202.80,591.00" fill="none" stroke="#fff" stroke-width="1.3" stroke-dasharray="1.3 3.6" stroke-opacity="0.85"/>
<path d="M80.45,397.40 L83.03,397.62 L85.61,397.86 L88.19,398.13 L90.77,398.43 L93.34,398.76 L95.91,399.12 L98.47,399.51 L101.03,399.93 L103.58,400.38 L106.12,400.86 L108.66,401.37 L111.19,401.91 L113.71,402.47 L116.23,403.07 L118.74,403.69 L121.23,404.34 L123.72,405.03 L126.21,405.74 L128.68,406.47 L131.14,407.24 L133.59,408.04 L136.03,408.86 L138.46,409.71 L140.87,410.59 L143.28,411.50 L145.67,412.43 L148.05,413.40 L150.42,414.39 L152.77,415.40 L155.11,416.45 L157.44,417.52 L159.75,418.61 L162.04,419.74 L164.33,420.89 L166.59,422.07 L168.84,423.27 L171.07,424.50 L173.29,425.75 L175.49,427.03 L177.67,428.33 L179.84,429.66 L181.99,431.02 L184.11,432.40 L186.23,433.80 L188.32,435.23 L190.39,436.68 L192.44,438.16 L194.47,439.66 L196.49,441.18 L198.48,442.72 L200.45,444.29 L202.40,445.88 L204.33,447.50 L206.24,449.13 L208.12,450.79 L209.98,452.47 L211.82,454.17 L213.64,455.89 L215.43,457.63 L217.20,459.39 L218.95,461.17 L220.67,462.98 L222.37,464.80 L224.05,466.64 L225.70,468.50 L227.32,470.38 L228.92,472.28 L230.50,474.20 L232.04,476.13 L233.57,478.08 L235.06,480.05 L236.53,482.04 L237.97,484.04 L239.39,486.06 L240.78,488.10 L242.14,490.15 L243.47,492.22 L244.78,494.30 L246.06,496.40 L247.31,498.51 L248.53,500.64 L249.72,502.78 L250.89,504.93 L252.02,507.10 L253.13,509.28 L254.21,511.47 L255.26,513.68 L256.28,515.89 L257.26,518.12 L258.22,520.36 L259.15,522.61 L260.05,524.87 L260.92,527.14 L261.76,529.42 L262.57,531.71 L263.34,534.01 L264.09,536.32 L264.80,538.64 L265.49,540.96 L266.14,543.29 L266.76,545.63 L267.35,547.98 L267.91,550.33 L268.44,552.69 L268.94,555.06 L269.40,557.43 L269.83,559.81 L270.24,562.19 L270.60,564.57 L270.94,566.96 L271.25,569.36 L271.52,571.75 L271.76,574.15 L271.97,576.55 L272.15,578.96 L272.29,581.36 L272.41,583.77 L272.49,586.18 L272.53,588.59 L272.55,591.00" fill="none" stroke="#fff" stroke-width="1.3" stroke-dasharray="1.3 3.6" stroke-opacity="0.85"/>
<line x1="63.3" y1="591.0" x2="163.18" y2="477.56" stroke="#1a1a1a" stroke-width="2.2"/>
<line x1="63.3" y1="591.0" x2="126.07" y2="536.61" stroke="#c88228" stroke-width="2.2"/>
<line x1="63.3" y1="591.0" x2="187.73" y2="502.94" stroke="#50eb50" stroke-width="2.2"/>
<path d="M210.69,464.30 L209.72,463.33 L208.74,462.36 L207.75,461.41 L206.75,460.46 L205.75,459.51 L204.73,458.58 L203.72,457.65 L202.69,456.72 L201.66,455.81 L200.62,454.89 L199.57,453.99 L198.52,453.10 L197.46,452.21 L196.39,451.32 L195.32,450.45 L194.24,449.58 L193.15,448.72 L192.06,447.87 L190.96,447.02 L189.85,446.18 L188.74,445.35 L187.62,444.52 L186.50,443.71 L185.37,442.90 L184.23,442.09 L183.08,441.30 L181.93,440.51 L180.78,439.73 L179.62,438.96 L178.45,438.20 L177.27,437.44 L176.10,436.69 L174.91,435.95 L173.72,435.22 L172.52,434.49 L171.32,433.78 L170.11,433.07 L168.90,432.37 L167.68,431.67 L166.46,430.99" fill="none" stroke="#000" stroke-width="2.4"/><line x1="204.35" y1="469.75" x2="217.04" y2="458.84" stroke="#000" stroke-width="2.4"/><line x1="184.41" y1="452.42" x2="195.30" y2="439.94" stroke="#000" stroke-width="2.4"/><line x1="162.02" y1="437.88" x2="170.90" y2="424.10" stroke="#000" stroke-width="2.4"/>
<path d="M250.28,494.39 L248.93,492.17 L247.55,489.97 L246.14,487.78 L244.70,485.61 L243.23,483.46 L241.73,481.33 L240.19,479.21 L238.64,477.11 L237.05,475.04 L235.43,472.98 L233.79,470.94 L232.11,468.92 L230.41,466.92 L228.68,464.94 L226.93,462.98 L225.15,461.04 L223.34,459.12 L221.50,457.23 L219.64,455.35 L217.75,453.50 L215.84,451.68 L213.90,449.87 L211.94,448.09 L209.95,446.33 L207.94,444.60 L205.91,442.89 L203.85,441.20 L201.77,439.54 L199.66,437.90 L197.53,436.29 L195.39,434.71 L193.21,433.15 L191.02,431.61 L188.81,430.10 L186.58,428.62 L184.32,427.17 L182.05,425.74 L179.75,424.34 L177.44,422.97 L175.11,421.62" fill="none" stroke="#c88228" stroke-width="2.4"/><line x1="242.72" y1="498.29" x2="257.84" y2="490.48" stroke="#c88228" stroke-width="2.4"/><line x1="211.51" y1="459.06" x2="223.99" y2="447.95" stroke="#c88228" stroke-width="2.4"/><line x1="170.59" y1="428.47" x2="179.63" y2="414.77" stroke="#c88228" stroke-width="2.4"/>
<path d="M260.22,485.46 L259.48,484.28 L258.74,483.11 L257.98,481.94 L257.22,480.77 L256.45,479.61 L255.67,478.46 L254.88,477.30 L254.09,476.16 L253.28,475.02 L252.47,473.88 L251.66,472.75 L250.83,471.62 L249.99,470.50 L249.15,469.38 L248.30,468.27 L247.44,467.17 L246.58,466.06 L245.71,464.97 L244.83,463.88 L243.94,462.79 L243.04,461.71 L242.14,460.64 L241.23,459.57 L240.31,458.50 L239.39,457.45 L238.45,456.39 L237.51,455.35 L236.57,454.30 L235.61,453.27 L234.65,452.24 L233.68,451.21 L232.70,450.20 L231.72,449.18 L230.73,448.18 L229.73,447.18 L228.73,446.18 L227.72,445.19 L226.70,444.21 L225.68,443.23 L224.65,442.26" fill="none" stroke="#50eb50" stroke-width="2.4"/><line x1="252.73" y1="489.47" x2="267.71" y2="481.44" stroke="#50eb50" stroke-width="2.4"/><line x1="237.07" y1="467.67" x2="250.81" y2="457.92" stroke="#50eb50" stroke-width="2.4"/><line x1="218.51" y1="447.92" x2="230.78" y2="436.60" stroke="#50eb50" stroke-width="2.4"/>
<g font-family="Liberation Sans, sans-serif">
<text x="1.3" y="291" font-size="29" font-weight="bold" fill="#111">B</text>
<text x="151.1" y="326.7" font-size="16" text-anchor="middle" fill="#111">Excited</text>
<text x="289.6" y="395.7" font-size="16" text-anchor="middle" fill="#111">Delighted</text>
<text x="370" y="529.6" font-size="16.2" text-anchor="middle" fill="#111">Happy</text>
<text x="60.6" y="596.8" font-size="16" text-anchor="end" fill="#404040">0</text>
<text x="60.6" y="532.0" font-size="16" text-anchor="end" fill="#404040">25</text>
<text x="60.6" y="467.3" font-size="16" text-anchor="end" fill="#404040">50</text>
<text x="60.6" y="402.6" font-size="16" text-anchor="end" fill="#404040">75</text>
<text x="60.6" y="337.8" font-size="16" text-anchor="end" fill="#404040">100</text>
<text x="66.4" y="607.2" font-size="16" text-anchor="middle" fill="#404040">0</text>
<text x="137" y="607.2" font-size="16" text-anchor="middle" fill="#404040">25</text>
<text x="202.9" y="607.2" font-size="16" text-anchor="middle" fill="#404040">50</text>
<text x="268.7" y="607.2" font-size="16" text-anchor="middle" fill="#404040">75</text>
<text x="339.3" y="607.2" font-size="16" text-anchor="middle" fill="#404040">100</text>
<text x="211.6" y="642.1" font-size="19.9" text-anchor="middle" fill="#111">Pleasantness (pixels)</text>
<text transform="translate(19.5,467.2) rotate(-90)" font-size="19.8" text-anchor="middle" fill="#111">Activation (pixels)</text>
</g>
<g stroke="#5a5a5a" stroke-width="1" fill="none">
<path d="M499.5,323.9 L499.5,591.5 L663.7,591.5"/>
<line x1="499.5" y1="571.4" x2="502.5" y2="571.4"/>
<line x1="499.5" y1="492.7" x2="502.5" y2="492.7"/>
<line x1="499.5" y1="414.0" x2="502.5" y2="414.0"/>
<line x1="499.5" y1="335.3" x2="502.5" y2="335.3"/>
<line x1="526.7" y1="591.5" x2="526.7" y2="588.5"/>
<line x1="581.4" y1="591.5" x2="581.4" y2="588.5"/>
<line x1="636.7" y1="591.5" x2="636.7" y2="588.5"/>
</g>
<g stroke="#111" stroke-width="1" fill="none">
<path d="M526.6,335.5 L526.6,331.4 L636.5,331.4 L636.5,335.5"/>
<path d="M526.6,355 L526.6,351.4 L578.9,351.4 L578.9,355"/>
<path d="M584.2,355 L584.2,351.4 L636.5,351.4 L636.5,355"/>
</g>
<g stroke="#000" stroke-width="1.6"><line x1="526.6" y1="395.1" x2="526.6" y2="459.3"/><line x1="523.8000000000001" y1="395.1" x2="529.4" y2="395.1"/><line x1="523.8000000000001" y1="459.3" x2="529.4" y2="459.3"/></g><circle cx="526.6" cy="428.0" r="5" fill="#000"/>
<g stroke="#c88228" stroke-width="1.6"><line x1="581.4" y1="496.6" x2="581.4" y2="559.3"/><line x1="578.6" y1="496.6" x2="584.1999999999999" y2="496.6"/><line x1="578.6" y1="559.3" x2="584.1999999999999" y2="559.3"/></g><circle cx="581.4" cy="529.4" r="5" fill="#c88228"/>
<g stroke="#50eb50" stroke-width="1.6"><line x1="636.5" y1="399.4" x2="636.5" y2="457.3"/><line x1="633.7" y1="399.4" x2="639.3" y2="399.4"/><line x1="633.7" y1="457.3" x2="639.3" y2="457.3"/></g><circle cx="636.5" cy="428.6" r="5" fill="#50eb50"/>
<g font-family="Liberation Sans, sans-serif">
<text x="440.2" y="291.2" font-size="29.5" font-weight="bold" fill="#111">C</text>
<text x="589" y="328.7" font-size="14.5" text-anchor="middle" fill="#111">ns</text>
<text x="556.4" y="353.6" font-size="13" text-anchor="middle" fill="#111">**</text>
<text x="611.4" y="353.6" font-size="13" text-anchor="middle" fill="#111">**</text>
<text x="495.5" y="577.2" font-size="16" text-anchor="end" fill="#404040">20</text>
<text x="495.5" y="498.5" font-size="16" text-anchor="end" fill="#404040">40</text>
<text x="495.5" y="419.8" font-size="16" text-anchor="end" fill="#404040">60</text>
<text x="495.5" y="341.1" font-size="16" text-anchor="end" fill="#404040">80</text>
<text transform="translate(458.4,460.3) rotate(-90)" font-size="19.9" text-anchor="middle" fill="#333">Average vector length (pixels)</text>
<text transform="translate(538.1,613.6) rotate(-45)" font-size="20" text-anchor="end" fill="#333">No sound</text>
<text transform="translate(597.3000000000001,613.6) rotate(-45)" font-size="20" text-anchor="end" fill="#333">Synthetic</text>
<text transform="translate(651.4000000000001,613.6) rotate(-45)" font-size="20" text-anchor="end" fill="#333">Natural</text>
</g>
</svg>
</body></html>
